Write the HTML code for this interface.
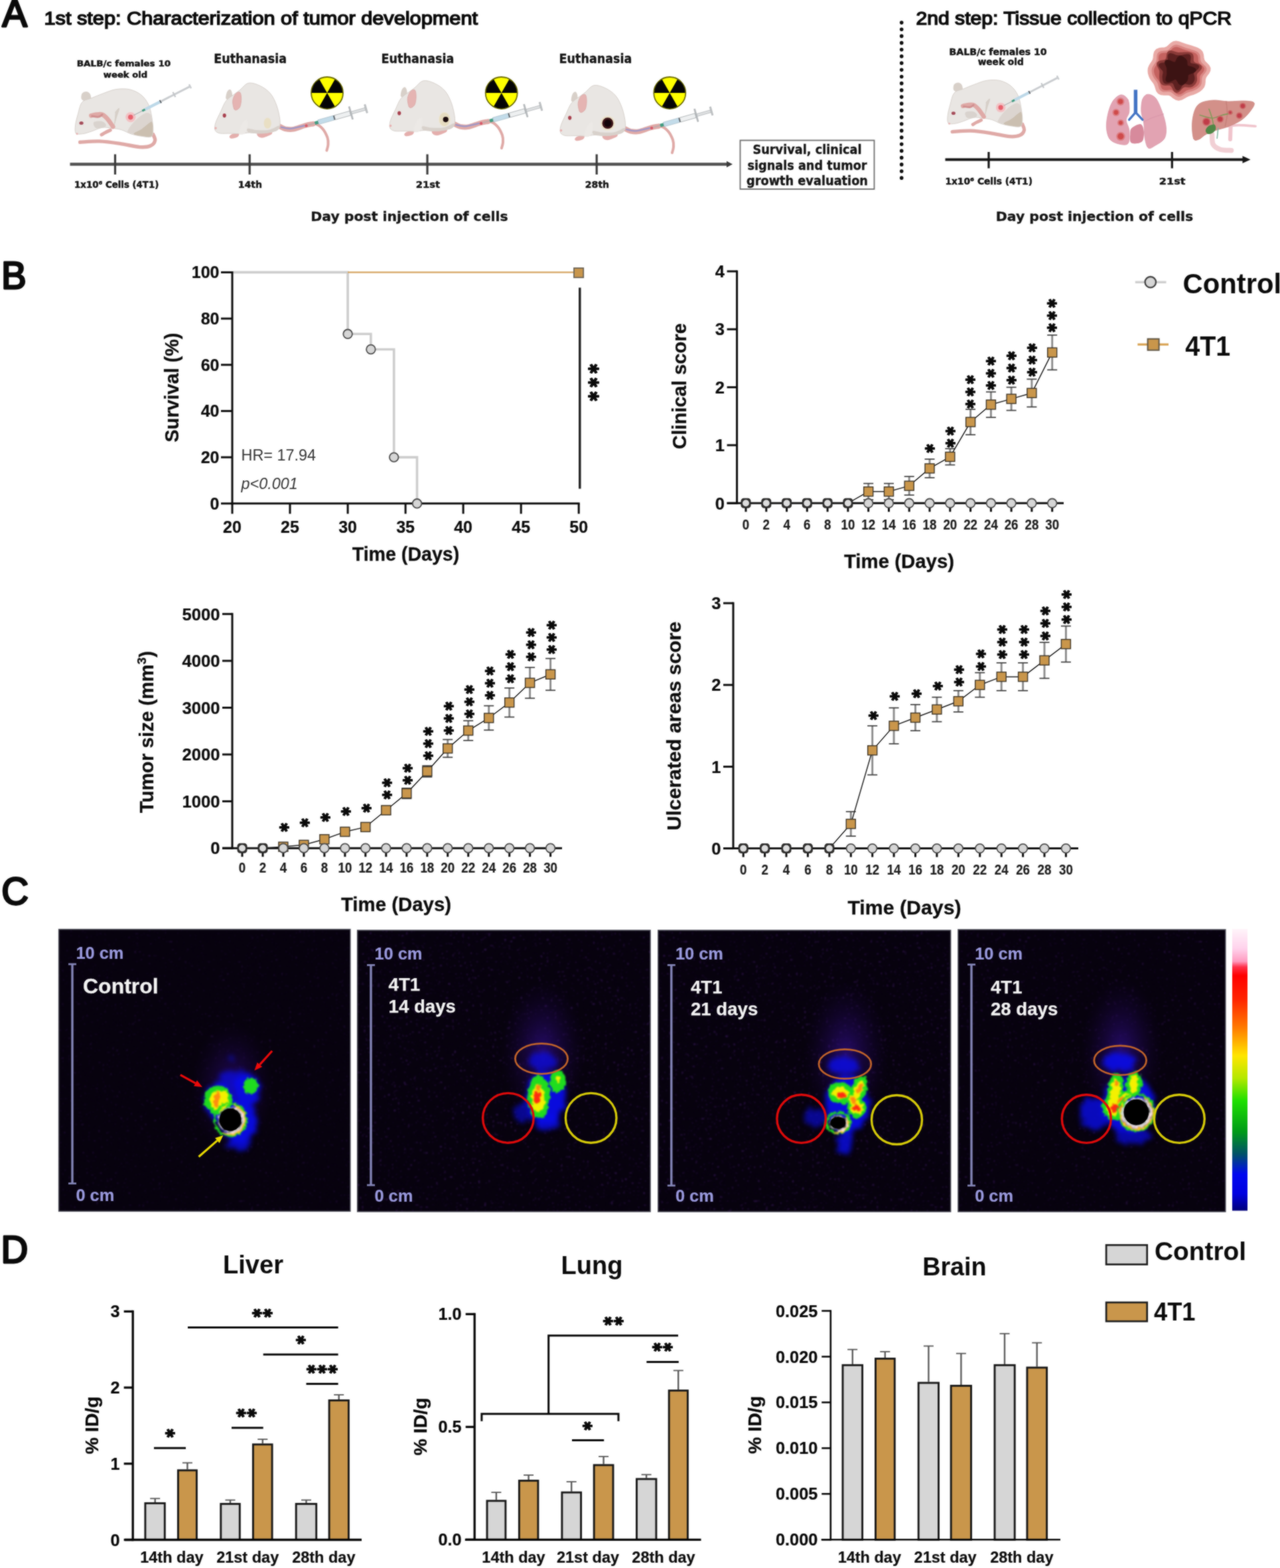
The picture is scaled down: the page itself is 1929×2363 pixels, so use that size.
<!DOCTYPE html>
<html lang="en">
<head>
<meta charset="utf-8">
<title>4T1 tumor model figure</title>
<style>
html,body{margin:0;padding:0;background:#fff;}
body{width:1929px;height:2363px;overflow:hidden;}
svg{display:block;font-family:"Liberation Sans", Arial, Helvetica, sans-serif;}
</style>
</head>
<body>
<svg width="1929" height="2363" viewBox="0 0 1929 2363">
<filter id="soft" x="0" y="0" width="1929" height="2363" filterUnits="userSpaceOnUse" color-interpolation-filters="sRGB">
<feGaussianBlur stdDeviation="1" result="b"/>
<feComposite in="SourceGraphic" in2="b" operator="arithmetic" k1="0" k2="0.42" k3="0.58" k4="0"/>
</filter>
<g filter="url(#soft)">
<rect width="1929" height="2363" fill="#fff"/>
<g id="panel_a">
<text x="3.2" y="40.2" font-size="56.5" font-weight="normal" text-anchor="start" fill="#0a0a0a" stroke="#0a0a0a" stroke-width="2.9" stroke-linejoin="round">A</text>
<text x="66.5" y="37.2" font-size="28.2" font-weight="normal" text-anchor="start" fill="#0a0a0a" textLength="653.5" lengthAdjust="spacingAndGlyphs" stroke="#0a0a0a" stroke-width="1.5">1st step: Characterization of tumor development</text>
<text x="1380.5" y="37.0" font-size="28.2" font-weight="normal" text-anchor="start" fill="#0a0a0a" textLength="475.5" lengthAdjust="spacingAndGlyphs" stroke="#0a0a0a" stroke-width="1.5">2nd step: Tissue collection to qPCR</text>
<line x1="105.5" y1="247.5" x2="1097.0" y2="247.5" stroke="#4f4f4f" stroke-width="4.6" />
<polygon points="1095,242.8 1104,247.5 1095,252.2" fill="#3a3a3a"/>
<line x1="173.5" y1="232.5" x2="173.5" y2="263.0" stroke="#3a3a3a" stroke-width="3.2" />
<line x1="376.2" y1="232.5" x2="376.2" y2="263.0" stroke="#3a3a3a" stroke-width="3.2" />
<line x1="644.0" y1="232.5" x2="644.0" y2="263.0" stroke="#3a3a3a" stroke-width="3.2" />
<line x1="899.2" y1="232.5" x2="899.2" y2="263.0" stroke="#3a3a3a" stroke-width="3.2" />
<text x="175.7" y="283.3" font-size="13.4" font-weight="bold" text-anchor="middle" fill="#141414" font-family='"DejaVu Sans", "Liberation Sans", sans-serif' textLength="127.3" lengthAdjust="spacingAndGlyphs" stroke="#141414" stroke-width="0.5">1x10⁶ Cells (4T1)</text>
<text x="376.8" y="283.3" font-size="14.2" font-weight="bold" text-anchor="middle" fill="#141414" font-family='"DejaVu Sans", "Liberation Sans", sans-serif' textLength="36.3" lengthAdjust="spacingAndGlyphs" stroke="#141414" stroke-width="0.5">14th</text>
<text x="645.0" y="283.3" font-size="14.2" font-weight="bold" text-anchor="middle" fill="#141414" font-family='"DejaVu Sans", "Liberation Sans", sans-serif' textLength="36.3" lengthAdjust="spacingAndGlyphs" stroke="#141414" stroke-width="0.5">21st</text>
<text x="900.0" y="283.3" font-size="14.2" font-weight="bold" text-anchor="middle" fill="#141414" font-family='"DejaVu Sans", "Liberation Sans", sans-serif' textLength="36.3" lengthAdjust="spacingAndGlyphs" stroke="#141414" stroke-width="0.5">28th</text>
<text x="617.0" y="332.5" font-size="20" font-weight="bold" text-anchor="middle" fill="#141414" font-family='"DejaVu Sans", "Liberation Sans", sans-serif' textLength="297.5" lengthAdjust="spacingAndGlyphs" stroke="#141414" stroke-width="0.35">Day post injection of cells</text>
<text x="186.5" y="100.0" font-size="13" font-weight="bold" text-anchor="middle" fill="#141414" font-family='"DejaVu Sans", "Liberation Sans", sans-serif' textLength="141.6" lengthAdjust="spacingAndGlyphs" stroke="#141414" stroke-width="0.5">BALB/c females 10</text>
<text x="189.0" y="117.2" font-size="13" font-weight="bold" text-anchor="middle" fill="#141414" font-family='"DejaVu Sans", "Liberation Sans", sans-serif' textLength="66.5" lengthAdjust="spacingAndGlyphs" stroke="#141414" stroke-width="0.5">week old</text>
<text x="377.1" y="95.1" font-size="19.5" font-weight="bold" text-anchor="middle" fill="#141414" font-family='"DejaVu Sans", "Liberation Sans", sans-serif' textLength="109.8" lengthAdjust="spacingAndGlyphs" stroke="#141414" stroke-width="0.35">Euthanasia</text>
<text x="629.5" y="94.6" font-size="19.5" font-weight="bold" text-anchor="middle" fill="#141414" font-family='"DejaVu Sans", "Liberation Sans", sans-serif' textLength="109.8" lengthAdjust="spacingAndGlyphs" stroke="#141414" stroke-width="0.35">Euthanasia</text>
<text x="897.5" y="94.6" font-size="19.5" font-weight="bold" text-anchor="middle" fill="#141414" font-family='"DejaVu Sans", "Liberation Sans", sans-serif' textLength="109.8" lengthAdjust="spacingAndGlyphs" stroke="#141414" stroke-width="0.35">Euthanasia</text>
<rect x="1115.5" y="211.5" width="202.0" height="73.5" fill="#fff" stroke="#6a6a6a" stroke-width="1.8" />
<text x="1216.5" y="232.3" font-size="18.6" font-weight="bold" text-anchor="middle" fill="#141414" font-family='"DejaVu Sans", "Liberation Sans", sans-serif' textLength="164.0" lengthAdjust="spacingAndGlyphs" stroke="#141414" stroke-width="0.35">Survival, clinical</text>
<text x="1216.5" y="255.6" font-size="18.6" font-weight="bold" text-anchor="middle" fill="#141414" font-family='"DejaVu Sans", "Liberation Sans", sans-serif' textLength="180.0" lengthAdjust="spacingAndGlyphs" stroke="#141414" stroke-width="0.35">signals and tumor</text>
<text x="1216.5" y="279.2" font-size="18.6" font-weight="bold" text-anchor="middle" fill="#141414" font-family='"DejaVu Sans", "Liberation Sans", sans-serif' textLength="183.0" lengthAdjust="spacingAndGlyphs" stroke="#141414" stroke-width="0.35">growth evaluation</text>
<path d="M230.8 202.6 C231.2 204.1 234.3 208.9 233.6 211.8 C233.0 214.7 230.6 218.2 226.7 219.8 C222.9 221.5 218.3 222.1 210.6 221.6 C202.9 221.0 190.8 217.8 180.6 216.4 C170.5 214.9 159.5 213.3 149.5 212.9 C139.6 212.6 125.5 214.1 120.7 214.3" fill="none" stroke="#dfa9a6" stroke-width="5.4" stroke-linecap="round" stroke-linejoin="round" />
<path d="M123.0 149.6 C121.8 147.5 122.5 142.8 123.6 140.9 C124.8 139.0 127.9 137.9 130.0 138.0 C132.0 138.1 134.6 139.6 135.7 141.5 C136.9 143.4 137.6 147.6 136.9 149.6 C136.1 151.5 133.4 153.0 131.1 153.0 C128.8 153.0 124.3 151.6 123.0 149.6Z" fill="#d8d0c9" />
<path d="M114.4 200.8 C112.5 198.7 113.1 193.4 113.6 188.7 C114.1 184.0 115.6 178.4 117.3 172.6 C119.0 166.8 120.2 158.3 123.6 154.2 C127.1 150.0 132.7 150.0 138.0 147.8 C143.3 145.6 149.2 143.1 155.3 140.9 C161.4 138.7 168.2 135.6 174.9 134.6 C181.6 133.6 189.3 133.4 195.6 134.8 C202.0 136.3 208.2 139.4 212.9 143.2 C217.6 147.0 221.3 152.3 223.8 157.6 C226.4 162.9 227.3 168.6 228.5 174.9 C229.6 181.2 230.9 190.5 230.8 195.6 C230.7 200.8 230.7 204.4 227.9 206.0 C225.1 207.6 219.0 206.1 214.1 205.4 C209.1 204.8 203.1 203.6 197.9 202.0 C192.7 200.3 187.7 197.1 182.9 195.6 C178.1 194.2 173.9 193.9 169.1 193.3 C164.3 192.8 159.3 191.4 154.1 192.2 C149.0 193.0 142.9 196.4 138.0 197.9 C133.1 199.5 128.7 201.2 124.8 201.6 C120.8 202.1 116.3 203.0 114.4 200.8Z" fill="#e9e6e3" stroke="#d3ccc6" stroke-width="0.9" stroke-linecap="round" stroke-linejoin="round" />
<path d="M203.7 181.8 C208.3 177.2 215.7 171.5 219.8 170.3 C223.9 169.1 226.4 170.7 228.1 174.9 C229.8 179.1 230.0 190.5 230.0 195.6 C229.9 200.8 230.3 204.0 227.6 205.6 C225.0 207.1 218.8 205.7 214.1 205.1 C209.3 204.4 202.7 202.8 199.1 201.6 C195.4 200.4 191.4 201.3 192.2 197.9 C192.9 194.6 199.1 186.4 203.7 181.8Z" fill="#dcd5d0" />
<path d="M213.5 194.5 C217.4 191.8 222.4 187.0 225.0 185.3 C227.6 183.5 228.4 182.3 229.3 184.1 C230.2 185.9 230.7 192.6 230.4 196.2 C230.1 199.8 230.4 204.1 227.6 205.6 C224.9 207.0 218.4 205.7 214.1 205.1 C209.7 204.4 201.5 203.4 201.4 201.6 C201.3 199.9 209.5 197.2 213.5 194.5Z" fill="#cbbfb0" />
<path d="M141.5 184.1 C143.2 182.5 151.1 182.2 154.1 183.0 C157.2 183.7 159.9 187.1 159.9 188.7 C159.9 190.4 156.8 192.2 154.1 192.8 C151.5 193.4 145.9 193.9 143.8 192.4 C141.7 191.0 139.7 185.7 141.5 184.1Z" fill="#d9d3ce" />
<path d="M173.7 169.1 C174.7 168.2 179.1 162.4 179.5 163.4 C179.9 164.3 177.3 170.7 176.0 174.9 C174.8 179.1 172.7 186.4 172.0 188.7" fill="#d6cfc8" stroke="#d6cfc8" stroke-width="1.2" stroke-linecap="round" stroke-linejoin="round" />
<path d="M137.4 174.3 C138.7 174.0 142.1 172.9 144.9 172.6 C147.7 172.3 151.3 171.5 154.1 172.6 C157.0 173.8 159.5 176.4 162.2 179.5 C164.9 182.6 168.9 189.1 170.3 191.0" fill="none" stroke="#dfa9a6" stroke-width="6.6" stroke-linecap="round" stroke-linejoin="round" />
<path d="M138.6 174.9 C140.2 175.1 145.8 176.4 148.4 176.1 C151.0 175.7 153.2 173.2 154.1 172.6" fill="none" stroke="#d08f8f" stroke-width="3.0" stroke-linecap="round" stroke-linejoin="round" />
<path d="M166.2 196.2 C165.0 196.8 161.0 198.5 158.8 199.7 C156.5 200.8 154.0 202.6 153.0 203.1" fill="none" stroke="#dfa9a6" stroke-width="5.0" stroke-linecap="round" stroke-linejoin="round" />
<ellipse cx="122.6" cy="185.5" rx="3.1" ry="2.5" fill="#a44a58"/>
<circle cx="116.1" cy="201.6" r="1.6" fill="#e8b6b6" />
<circle cx="196.8" cy="176.6" r="7.6" fill="#f2c2c4" />
<circle cx="196.8" cy="176.6" r="3.8" fill="#e8606c" />
<g transform="translate(201.4 173.8) rotate(-27.15)"><line x1="0.0" y1="0.0" x2="15.4" y2="0.0" stroke="#a9aeb0" stroke-width="1.0" /><rect x="14.5" y="-1.6" width="5.0" height="3.2" fill="#3f9c80" /><rect x="19.5" y="-2.2" width="25.1" height="4.4" fill="#bcd8e8" /><rect x="44.5" y="-2.4" width="2.0" height="4.8" fill="#50565c" /><rect x="46.5" y="-1.5" width="49.9" height="3.0" fill="#c9cccf" /><rect x="67.5" y="-4.2" width="2.2" height="8.4" fill="#c2c5c8" /><rect x="94.5" y="-3.4" width="2.4" height="6.8" fill="#c9cccf" /></g>
<path d="M420.8 189.4 C422.3 190.1 426.3 193.0 429.8 193.9 C433.3 194.7 436.8 195.4 441.8 194.6 C446.8 193.8 454.3 190.4 459.8 189.1 C465.3 187.8 470.4 185.9 474.7 186.7 C479.1 187.5 482.9 190.4 486.0 193.9 C489.1 197.3 492.0 203.4 493.5 207.3 C494.9 211.3 494.7 214.6 494.5 217.8 C494.3 221.1 492.8 225.3 492.4 226.8" fill="none" stroke="#dfa9a6" stroke-width="4.0" stroke-linecap="round" stroke-linejoin="round" />
<path d="M420.8 190.1 C422.3 190.8 426.3 193.4 429.8 194.2 C433.3 194.9 436.8 195.6 441.8 194.8 C446.8 193.9 454.8 190.4 459.8 189.1 C464.8 187.7 469.8 187.1 471.7 186.7" fill="none" stroke="#dfa9a6" stroke-width="7.6" stroke-linecap="round" stroke-linejoin="round" />
<path d="M423.8 191.6 C426.1 192.0 431.6 194.2 437.3 193.9 C443.0 193.5 454.8 190.1 458.3 189.4" fill="none" stroke="#9c96c8" stroke-width="2.4" stroke-linecap="round" stroke-linejoin="round" />
<circle cx="461.6" cy="189.4" r="2.2" fill="#d85868" />
<path d="M340.7 148.9 C339.5 147.1 341.2 140.8 342.2 138.5 C343.2 136.1 345.4 134.5 346.7 134.7 C347.9 135.0 349.3 137.5 349.7 140.0 C350.1 142.4 350.7 147.7 349.2 149.2 C347.7 150.7 341.9 150.7 340.7 148.9Z" fill="#d8d0c9" />
<path d="M347.4 203.6 C348.9 202.5 352.8 200.9 354.9 200.6 C357.1 200.4 359.7 201.1 360.2 202.1 C360.7 203.1 359.7 205.5 357.9 206.6 C356.2 207.7 351.7 208.8 349.7 208.8 C347.7 208.9 346.3 207.9 345.9 207.0 C345.6 206.2 345.9 204.7 347.4 203.6Z" fill="#e4aeac" />
<path d="M387.9 199.9 C389.5 198.6 394.9 198.1 398.4 197.6 C401.9 197.1 407.0 196.1 408.8 196.9 C410.7 197.6 410.8 200.6 409.6 202.1 C408.3 203.6 404.0 204.9 401.4 205.9 C398.7 206.8 396.0 207.8 393.9 207.6 C391.7 207.5 389.6 206.4 388.6 205.1 C387.6 203.8 386.3 201.1 387.9 199.9Z" fill="#e4aeac" />
<path d="M323.8 193.9 C323.7 191.6 323.5 189.1 325.0 184.9 C326.4 180.6 329.8 173.9 332.5 168.4 C335.1 162.9 337.3 156.3 340.7 151.9 C344.1 147.6 349.2 144.9 352.7 142.2 C356.2 139.5 358.1 138.3 361.7 135.5 C365.3 132.6 369.4 126.3 374.4 125.3 C379.4 124.2 386.1 126.6 391.6 129.2 C397.1 131.7 403.1 135.7 407.3 140.7 C411.6 145.7 414.6 152.6 417.1 159.4 C419.5 166.3 421.5 176.1 422.0 181.9 C422.5 187.6 421.8 191.1 420.1 193.9 C418.4 196.6 416.2 197.2 411.8 198.4 C407.5 199.6 399.9 200.8 393.9 201.1 C387.9 201.3 381.1 199.8 375.9 199.9 C370.7 200.0 367.2 201.5 362.4 201.7 C357.7 201.9 352.4 201.2 347.4 201.1 C342.4 201.0 336.1 201.5 332.5 201.1 C328.8 200.6 327.2 199.6 325.7 198.4 C324.3 197.2 323.9 196.1 323.8 193.9Z" fill="#e9e6e3" stroke="#d3ccc6" stroke-width="0.9" stroke-linecap="round" stroke-linejoin="round" />
<path d="M372.9 193.9 C374.9 193.2 382.4 195.9 387.9 196.1 C393.4 196.4 400.5 196.5 405.9 195.4 C411.2 194.2 417.7 189.6 420.1 189.4 C422.5 189.1 421.5 192.4 420.1 193.9 C418.7 195.4 416.2 197.2 411.8 198.4 C407.5 199.6 399.9 200.8 393.9 201.1 C387.9 201.3 379.4 201.1 375.9 199.9 C372.4 198.7 370.9 194.5 372.9 193.9Z" fill="#d8d1cb" />
<path d="M360.2 201.4 C359.4 199.1 362.0 191.4 363.9 187.9 C365.8 184.4 369.9 179.9 371.4 180.4 C372.9 180.9 373.4 187.4 372.9 190.9 C372.4 194.4 370.5 199.6 368.4 201.4 C366.3 203.1 360.9 203.6 360.2 201.4Z" fill="#ece9e6" />
<path d="M352.7 163.9 C351.7 161.6 350.4 155.7 350.7 151.9 C351.1 148.2 353.1 143.6 354.9 141.5 C356.8 139.3 360.2 138.0 361.7 139.2 C363.1 140.5 363.6 145.3 363.6 148.9 C363.6 152.6 362.9 158.1 361.7 160.9 C360.5 163.7 357.9 165.2 356.4 165.7 C354.9 166.2 353.6 166.2 352.7 163.9Z" fill="#e5b4b2" stroke="#d9a6a4" stroke-width="0.8" stroke-linecap="round" stroke-linejoin="round" />
<ellipse cx="338.2" cy="174.1" rx="2.6" ry="3.1" fill="#a8404e"/>
<circle cx="325.0" cy="193.1" r="1.8" fill="#e8b0b0" />
<ellipse cx="403.2" cy="185.6" rx="5.6" ry="8.2" fill="#e9dfc4"/>
<g transform="translate(475.5 185.3) rotate(-15.72)"><line x1="-12.0" y1="0.0" x2="0.0" y2="0.0" stroke="#a9aeb0" stroke-width="1.1" /><rect x="-1.0" y="-2.4" width="5.5" height="4.9" fill="#3f9c80" /><rect x="4.5" y="-3.4" width="24.0" height="6.8" fill="#c3dcea" stroke="#9fb4bf" stroke-width="0.6" /><rect x="28.5" y="-3.4" width="1.8" height="6.8" fill="#4a4f55" /><rect x="30.3" y="-3.4" width="24.0" height="6.8" fill="#eef0f1" stroke="#a6abae" stroke-width="0.8" /><rect x="54.4" y="-9.9" width="2.0" height="19.7" fill="#b9bdc0" stroke="#9a9ea1" stroke-width="0.5" /><rect x="56.4" y="-1.9" width="22.8" height="3.8" fill="#dfe1e2" stroke="#a9adb0" stroke-width="0.7" /><rect x="77.9" y="-6.5" width="2.2" height="12.9" fill="#c4c7c9" stroke="#9a9ea1" stroke-width="0.5" /></g>
<circle cx="493.0" cy="140.0" r="24.0" fill="#ffff00" stroke="#6b6b00" stroke-width="1.8" /><path d="M493.0 140.0 L504.6 119.8 A23.3 23.3 0 0 1 516.3 140.0Z" fill="#050505"/><path d="M493.0 140.0 L504.6 160.2 A23.3 23.3 0 0 1 481.4 160.2Z" fill="#050505"/><path d="M493.0 140.0 L469.7 140.0 A23.3 23.3 0 0 1 481.4 119.8Z" fill="#050505"/>
<g transform="translate(263.5 -3.5)"><path d="M420.8 189.4 C422.3 190.1 426.3 193.0 429.8 193.9 C433.3 194.7 436.8 195.4 441.8 194.6 C446.8 193.8 454.3 190.4 459.8 189.1 C465.3 187.8 470.4 185.9 474.7 186.7 C479.1 187.5 482.9 190.4 486.0 193.9 C489.1 197.3 492.0 203.4 493.5 207.3 C494.9 211.3 494.7 214.6 494.5 217.8 C494.3 221.1 492.8 225.3 492.4 226.8" fill="none" stroke="#dfa9a6" stroke-width="4.0" stroke-linecap="round" stroke-linejoin="round" />
<path d="M420.8 190.1 C422.3 190.8 426.3 193.4 429.8 194.2 C433.3 194.9 436.8 195.6 441.8 194.8 C446.8 193.9 454.8 190.4 459.8 189.1 C464.8 187.7 469.8 187.1 471.7 186.7" fill="none" stroke="#dfa9a6" stroke-width="7.6" stroke-linecap="round" stroke-linejoin="round" />
<path d="M423.8 191.6 C426.1 192.0 431.6 194.2 437.3 193.9 C443.0 193.5 454.8 190.1 458.3 189.4" fill="none" stroke="#9c96c8" stroke-width="2.4" stroke-linecap="round" stroke-linejoin="round" />
<circle cx="461.6" cy="189.4" r="2.2" fill="#d85868" />
<path d="M340.7 148.9 C339.5 147.1 341.2 140.8 342.2 138.5 C343.2 136.1 345.4 134.5 346.7 134.7 C347.9 135.0 349.3 137.5 349.7 140.0 C350.1 142.4 350.7 147.7 349.2 149.2 C347.7 150.7 341.9 150.7 340.7 148.9Z" fill="#d8d0c9" />
<path d="M347.4 203.6 C348.9 202.5 352.8 200.9 354.9 200.6 C357.1 200.4 359.7 201.1 360.2 202.1 C360.7 203.1 359.7 205.5 357.9 206.6 C356.2 207.7 351.7 208.8 349.7 208.8 C347.7 208.9 346.3 207.9 345.9 207.0 C345.6 206.2 345.9 204.7 347.4 203.6Z" fill="#e4aeac" />
<path d="M387.9 199.9 C389.5 198.6 394.9 198.1 398.4 197.6 C401.9 197.1 407.0 196.1 408.8 196.9 C410.7 197.6 410.8 200.6 409.6 202.1 C408.3 203.6 404.0 204.9 401.4 205.9 C398.7 206.8 396.0 207.8 393.9 207.6 C391.7 207.5 389.6 206.4 388.6 205.1 C387.6 203.8 386.3 201.1 387.9 199.9Z" fill="#e4aeac" />
<path d="M323.8 193.9 C323.7 191.6 323.5 189.1 325.0 184.9 C326.4 180.6 329.8 173.9 332.5 168.4 C335.1 162.9 337.3 156.3 340.7 151.9 C344.1 147.6 349.2 144.9 352.7 142.2 C356.2 139.5 358.1 138.3 361.7 135.5 C365.3 132.6 369.4 126.3 374.4 125.3 C379.4 124.2 386.1 126.6 391.6 129.2 C397.1 131.7 403.1 135.7 407.3 140.7 C411.6 145.7 414.6 152.6 417.1 159.4 C419.5 166.3 421.5 176.1 422.0 181.9 C422.5 187.6 421.8 191.1 420.1 193.9 C418.4 196.6 416.2 197.2 411.8 198.4 C407.5 199.6 399.9 200.8 393.9 201.1 C387.9 201.3 381.1 199.8 375.9 199.9 C370.7 200.0 367.2 201.5 362.4 201.7 C357.7 201.9 352.4 201.2 347.4 201.1 C342.4 201.0 336.1 201.5 332.5 201.1 C328.8 200.6 327.2 199.6 325.7 198.4 C324.3 197.2 323.9 196.1 323.8 193.9Z" fill="#e9e6e3" stroke="#d3ccc6" stroke-width="0.9" stroke-linecap="round" stroke-linejoin="round" />
<path d="M372.9 193.9 C374.9 193.2 382.4 195.9 387.9 196.1 C393.4 196.4 400.5 196.5 405.9 195.4 C411.2 194.2 417.7 189.6 420.1 189.4 C422.5 189.1 421.5 192.4 420.1 193.9 C418.7 195.4 416.2 197.2 411.8 198.4 C407.5 199.6 399.9 200.8 393.9 201.1 C387.9 201.3 379.4 201.1 375.9 199.9 C372.4 198.7 370.9 194.5 372.9 193.9Z" fill="#d8d1cb" />
<path d="M360.2 201.4 C359.4 199.1 362.0 191.4 363.9 187.9 C365.8 184.4 369.9 179.9 371.4 180.4 C372.9 180.9 373.4 187.4 372.9 190.9 C372.4 194.4 370.5 199.6 368.4 201.4 C366.3 203.1 360.9 203.6 360.2 201.4Z" fill="#ece9e6" />
<path d="M352.7 163.9 C351.7 161.6 350.4 155.7 350.7 151.9 C351.1 148.2 353.1 143.6 354.9 141.5 C356.8 139.3 360.2 138.0 361.7 139.2 C363.1 140.5 363.6 145.3 363.6 148.9 C363.6 152.6 362.9 158.1 361.7 160.9 C360.5 163.7 357.9 165.2 356.4 165.7 C354.9 166.2 353.6 166.2 352.7 163.9Z" fill="#e5b4b2" stroke="#d9a6a4" stroke-width="0.8" stroke-linecap="round" stroke-linejoin="round" />
<ellipse cx="338.2" cy="174.1" rx="2.6" ry="3.1" fill="#a8404e"/>
<circle cx="325.0" cy="193.1" r="1.8" fill="#e8b0b0" />
<ellipse cx="406.4" cy="183.4" rx="8.6" ry="10.6" fill="#e6dcc0" stroke="#efe9d8" stroke-width="1"/>
<circle cx="408.2" cy="183.6" r="4.1" fill="#1a0a0c" />
<g transform="translate(475.5 185.3) rotate(-15.72)"><line x1="-12.0" y1="0.0" x2="0.0" y2="0.0" stroke="#a9aeb0" stroke-width="1.1" /><rect x="-1.0" y="-2.4" width="5.5" height="4.9" fill="#3f9c80" /><rect x="4.5" y="-3.4" width="24.0" height="6.8" fill="#c3dcea" stroke="#9fb4bf" stroke-width="0.6" /><rect x="28.5" y="-3.4" width="1.8" height="6.8" fill="#4a4f55" /><rect x="30.3" y="-3.4" width="24.0" height="6.8" fill="#eef0f1" stroke="#a6abae" stroke-width="0.8" /><rect x="54.4" y="-9.9" width="2.0" height="19.7" fill="#b9bdc0" stroke="#9a9ea1" stroke-width="0.5" /><rect x="56.4" y="-1.9" width="22.8" height="3.8" fill="#dfe1e2" stroke="#a9adb0" stroke-width="0.7" /><rect x="77.9" y="-6.5" width="2.2" height="12.9" fill="#c4c7c9" stroke="#9a9ea1" stroke-width="0.5" /></g></g>
<circle cx="755.7" cy="140.0" r="24.0" fill="#ffff00" stroke="#6b6b00" stroke-width="1.8" /><path d="M755.7 140.0 L767.3 119.8 A23.3 23.3 0 0 1 779.0 140.0Z" fill="#050505"/><path d="M755.7 140.0 L767.3 160.2 A23.3 23.3 0 0 1 744.1 160.2Z" fill="#050505"/><path d="M755.7 140.0 L732.4 140.0 A23.3 23.3 0 0 1 744.1 119.8Z" fill="#050505"/>
<g transform="translate(520.5 3.5)"><path d="M420.8 189.4 C422.3 190.1 426.3 193.0 429.8 193.9 C433.3 194.7 436.8 195.4 441.8 194.6 C446.8 193.8 454.3 190.4 459.8 189.1 C465.3 187.8 470.4 185.9 474.7 186.7 C479.1 187.5 482.9 190.4 486.0 193.9 C489.1 197.3 492.0 203.4 493.5 207.3 C494.9 211.3 494.7 214.6 494.5 217.8 C494.3 221.1 492.8 225.3 492.4 226.8" fill="none" stroke="#dfa9a6" stroke-width="4.0" stroke-linecap="round" stroke-linejoin="round" />
<path d="M420.8 190.1 C422.3 190.8 426.3 193.4 429.8 194.2 C433.3 194.9 436.8 195.6 441.8 194.8 C446.8 193.9 454.8 190.4 459.8 189.1 C464.8 187.7 469.8 187.1 471.7 186.7" fill="none" stroke="#dfa9a6" stroke-width="7.6" stroke-linecap="round" stroke-linejoin="round" />
<path d="M423.8 191.6 C426.1 192.0 431.6 194.2 437.3 193.9 C443.0 193.5 454.8 190.1 458.3 189.4" fill="none" stroke="#9c96c8" stroke-width="2.4" stroke-linecap="round" stroke-linejoin="round" />
<circle cx="461.6" cy="189.4" r="2.2" fill="#d85868" />
<path d="M340.7 148.9 C339.5 147.1 341.2 140.8 342.2 138.5 C343.2 136.1 345.4 134.5 346.7 134.7 C347.9 135.0 349.3 137.5 349.7 140.0 C350.1 142.4 350.7 147.7 349.2 149.2 C347.7 150.7 341.9 150.7 340.7 148.9Z" fill="#d8d0c9" />
<path d="M347.4 203.6 C348.9 202.5 352.8 200.9 354.9 200.6 C357.1 200.4 359.7 201.1 360.2 202.1 C360.7 203.1 359.7 205.5 357.9 206.6 C356.2 207.7 351.7 208.8 349.7 208.8 C347.7 208.9 346.3 207.9 345.9 207.0 C345.6 206.2 345.9 204.7 347.4 203.6Z" fill="#e4aeac" />
<path d="M387.9 199.9 C389.5 198.6 394.9 198.1 398.4 197.6 C401.9 197.1 407.0 196.1 408.8 196.9 C410.7 197.6 410.8 200.6 409.6 202.1 C408.3 203.6 404.0 204.9 401.4 205.9 C398.7 206.8 396.0 207.8 393.9 207.6 C391.7 207.5 389.6 206.4 388.6 205.1 C387.6 203.8 386.3 201.1 387.9 199.9Z" fill="#e4aeac" />
<path d="M323.8 193.9 C323.7 191.6 323.5 189.1 325.0 184.9 C326.4 180.6 329.8 173.9 332.5 168.4 C335.1 162.9 337.3 156.3 340.7 151.9 C344.1 147.6 349.2 144.9 352.7 142.2 C356.2 139.5 358.1 138.3 361.7 135.5 C365.3 132.6 369.4 126.3 374.4 125.3 C379.4 124.2 386.1 126.6 391.6 129.2 C397.1 131.7 403.1 135.7 407.3 140.7 C411.6 145.7 414.6 152.6 417.1 159.4 C419.5 166.3 421.5 176.1 422.0 181.9 C422.5 187.6 421.8 191.1 420.1 193.9 C418.4 196.6 416.2 197.2 411.8 198.4 C407.5 199.6 399.9 200.8 393.9 201.1 C387.9 201.3 381.1 199.8 375.9 199.9 C370.7 200.0 367.2 201.5 362.4 201.7 C357.7 201.9 352.4 201.2 347.4 201.1 C342.4 201.0 336.1 201.5 332.5 201.1 C328.8 200.6 327.2 199.6 325.7 198.4 C324.3 197.2 323.9 196.1 323.8 193.9Z" fill="#e9e6e3" stroke="#d3ccc6" stroke-width="0.9" stroke-linecap="round" stroke-linejoin="round" />
<path d="M372.9 193.9 C374.9 193.2 382.4 195.9 387.9 196.1 C393.4 196.4 400.5 196.5 405.9 195.4 C411.2 194.2 417.7 189.6 420.1 189.4 C422.5 189.1 421.5 192.4 420.1 193.9 C418.7 195.4 416.2 197.2 411.8 198.4 C407.5 199.6 399.9 200.8 393.9 201.1 C387.9 201.3 379.4 201.1 375.9 199.9 C372.4 198.7 370.9 194.5 372.9 193.9Z" fill="#d8d1cb" />
<path d="M360.2 201.4 C359.4 199.1 362.0 191.4 363.9 187.9 C365.8 184.4 369.9 179.9 371.4 180.4 C372.9 180.9 373.4 187.4 372.9 190.9 C372.4 194.4 370.5 199.6 368.4 201.4 C366.3 203.1 360.9 203.6 360.2 201.4Z" fill="#ece9e6" />
<path d="M352.7 163.9 C351.7 161.6 350.4 155.7 350.7 151.9 C351.1 148.2 353.1 143.6 354.9 141.5 C356.8 139.3 360.2 138.0 361.7 139.2 C363.1 140.5 363.6 145.3 363.6 148.9 C363.6 152.6 362.9 158.1 361.7 160.9 C360.5 163.7 357.9 165.2 356.4 165.7 C354.9 166.2 353.6 166.2 352.7 163.9Z" fill="#e5b4b2" stroke="#d9a6a4" stroke-width="0.8" stroke-linecap="round" stroke-linejoin="round" />
<ellipse cx="338.2" cy="174.1" rx="2.6" ry="3.1" fill="#a8404e"/>
<circle cx="325.0" cy="193.1" r="1.8" fill="#e8b0b0" />
<circle cx="395.4" cy="182.2" r="11.0" fill="#e9dfc6" stroke="#f2ecde" stroke-width="1" />
<circle cx="395.4" cy="182.2" r="8.4" fill="#3a1216" />
<circle cx="395.4" cy="182.2" r="5.4" fill="#14060a" />
<g transform="translate(475.5 185.3) rotate(-15.72)"><line x1="-12.0" y1="0.0" x2="0.0" y2="0.0" stroke="#a9aeb0" stroke-width="1.1" /><rect x="-1.0" y="-2.4" width="5.5" height="4.9" fill="#3f9c80" /><rect x="4.5" y="-3.4" width="24.0" height="6.8" fill="#c3dcea" stroke="#9fb4bf" stroke-width="0.6" /><rect x="28.5" y="-3.4" width="1.8" height="6.8" fill="#4a4f55" /><rect x="30.3" y="-3.4" width="24.0" height="6.8" fill="#eef0f1" stroke="#a6abae" stroke-width="0.8" /><rect x="54.4" y="-9.9" width="2.0" height="19.7" fill="#b9bdc0" stroke="#9a9ea1" stroke-width="0.5" /><rect x="56.4" y="-1.9" width="22.8" height="3.8" fill="#dfe1e2" stroke="#a9adb0" stroke-width="0.7" /><rect x="77.9" y="-6.5" width="2.2" height="12.9" fill="#c4c7c9" stroke="#9a9ea1" stroke-width="0.5" /></g></g>
<circle cx="1009.3" cy="140.0" r="24.0" fill="#ffff00" stroke="#6b6b00" stroke-width="1.8" /><path d="M1009.3 140.0 L1020.9 119.8 A23.3 23.3 0 0 1 1032.6 140.0Z" fill="#050505"/><path d="M1009.3 140.0 L1020.9 160.2 A23.3 23.3 0 0 1 997.7 160.2Z" fill="#050505"/><path d="M1009.3 140.0 L986.0 140.0 A23.3 23.3 0 0 1 997.7 119.8Z" fill="#050505"/>
<line x1="1358.7" y1="34" x2="1358.7" y2="271" stroke="#0c0c0c" stroke-width="5.6" stroke-dasharray="0.1 10.08" stroke-linecap="round"/>
<text x="1504.1" y="82.6" font-size="13.5" font-weight="bold" text-anchor="middle" fill="#141414" font-family='"DejaVu Sans", "Liberation Sans", sans-serif' textLength="147.2" lengthAdjust="spacingAndGlyphs" stroke="#141414" stroke-width="0.5">BALB/c females 10</text>
<text x="1508.2" y="97.8" font-size="13.5" font-weight="bold" text-anchor="middle" fill="#141414" font-family='"DejaVu Sans", "Liberation Sans", sans-serif' textLength="69.0" lengthAdjust="spacingAndGlyphs" stroke="#141414" stroke-width="0.5">week old</text>
<g transform="translate(1319.2 -9.3) scale(0.96 0.97)"><path d="M230.8 202.6 C231.2 204.1 234.3 208.9 233.6 211.8 C233.0 214.7 230.6 218.2 226.7 219.8 C222.9 221.5 218.3 222.1 210.6 221.6 C202.9 221.0 190.8 217.8 180.6 216.4 C170.5 214.9 159.5 213.3 149.5 212.9 C139.6 212.6 125.5 214.1 120.7 214.3" fill="none" stroke="#dfa9a6" stroke-width="5.4" stroke-linecap="round" stroke-linejoin="round" />
<path d="M123.0 149.6 C121.8 147.5 122.5 142.8 123.6 140.9 C124.8 139.0 127.9 137.9 130.0 138.0 C132.0 138.1 134.6 139.6 135.7 141.5 C136.9 143.4 137.6 147.6 136.9 149.6 C136.1 151.5 133.4 153.0 131.1 153.0 C128.8 153.0 124.3 151.6 123.0 149.6Z" fill="#d8d0c9" />
<path d="M114.4 200.8 C112.5 198.7 113.1 193.4 113.6 188.7 C114.1 184.0 115.6 178.4 117.3 172.6 C119.0 166.8 120.2 158.3 123.6 154.2 C127.1 150.0 132.7 150.0 138.0 147.8 C143.3 145.6 149.2 143.1 155.3 140.9 C161.4 138.7 168.2 135.6 174.9 134.6 C181.6 133.6 189.3 133.4 195.6 134.8 C202.0 136.3 208.2 139.4 212.9 143.2 C217.6 147.0 221.3 152.3 223.8 157.6 C226.4 162.9 227.3 168.6 228.5 174.9 C229.6 181.2 230.9 190.5 230.8 195.6 C230.7 200.8 230.7 204.4 227.9 206.0 C225.1 207.6 219.0 206.1 214.1 205.4 C209.1 204.8 203.1 203.6 197.9 202.0 C192.7 200.3 187.7 197.1 182.9 195.6 C178.1 194.2 173.9 193.9 169.1 193.3 C164.3 192.8 159.3 191.4 154.1 192.2 C149.0 193.0 142.9 196.4 138.0 197.9 C133.1 199.5 128.7 201.2 124.8 201.6 C120.8 202.1 116.3 203.0 114.4 200.8Z" fill="#e9e6e3" stroke="#d3ccc6" stroke-width="0.9" stroke-linecap="round" stroke-linejoin="round" />
<path d="M203.7 181.8 C208.3 177.2 215.7 171.5 219.8 170.3 C223.9 169.1 226.4 170.7 228.1 174.9 C229.8 179.1 230.0 190.5 230.0 195.6 C229.9 200.8 230.3 204.0 227.6 205.6 C225.0 207.1 218.8 205.7 214.1 205.1 C209.3 204.4 202.7 202.8 199.1 201.6 C195.4 200.4 191.4 201.3 192.2 197.9 C192.9 194.6 199.1 186.4 203.7 181.8Z" fill="#dcd5d0" />
<path d="M213.5 194.5 C217.4 191.8 222.4 187.0 225.0 185.3 C227.6 183.5 228.4 182.3 229.3 184.1 C230.2 185.9 230.7 192.6 230.4 196.2 C230.1 199.8 230.4 204.1 227.6 205.6 C224.9 207.0 218.4 205.7 214.1 205.1 C209.7 204.4 201.5 203.4 201.4 201.6 C201.3 199.9 209.5 197.2 213.5 194.5Z" fill="#cbbfb0" />
<path d="M141.5 184.1 C143.2 182.5 151.1 182.2 154.1 183.0 C157.2 183.7 159.9 187.1 159.9 188.7 C159.9 190.4 156.8 192.2 154.1 192.8 C151.5 193.4 145.9 193.9 143.8 192.4 C141.7 191.0 139.7 185.7 141.5 184.1Z" fill="#d9d3ce" />
<path d="M173.7 169.1 C174.7 168.2 179.1 162.4 179.5 163.4 C179.9 164.3 177.3 170.7 176.0 174.9 C174.8 179.1 172.7 186.4 172.0 188.7" fill="#d6cfc8" stroke="#d6cfc8" stroke-width="1.2" stroke-linecap="round" stroke-linejoin="round" />
<path d="M137.4 174.3 C138.7 174.0 142.1 172.9 144.9 172.6 C147.7 172.3 151.3 171.5 154.1 172.6 C157.0 173.8 159.5 176.4 162.2 179.5 C164.9 182.6 168.9 189.1 170.3 191.0" fill="none" stroke="#dfa9a6" stroke-width="6.6" stroke-linecap="round" stroke-linejoin="round" />
<path d="M138.6 174.9 C140.2 175.1 145.8 176.4 148.4 176.1 C151.0 175.7 153.2 173.2 154.1 172.6" fill="none" stroke="#d08f8f" stroke-width="3.0" stroke-linecap="round" stroke-linejoin="round" />
<path d="M166.2 196.2 C165.0 196.8 161.0 198.5 158.8 199.7 C156.5 200.8 154.0 202.6 153.0 203.1" fill="none" stroke="#dfa9a6" stroke-width="5.0" stroke-linecap="round" stroke-linejoin="round" />
<ellipse cx="122.6" cy="185.5" rx="3.1" ry="2.5" fill="#a44a58"/>
<circle cx="116.1" cy="201.6" r="1.6" fill="#e8b6b6" />
<circle cx="196.8" cy="176.6" r="7.6" fill="#f2c2c4" />
<circle cx="196.8" cy="176.6" r="3.8" fill="#e8606c" />
<g transform="translate(201.4 173.8) rotate(-27.15)"><line x1="0.0" y1="0.0" x2="15.4" y2="0.0" stroke="#a9aeb0" stroke-width="1.0" /><rect x="14.5" y="-1.6" width="5.0" height="3.2" fill="#3f9c80" /><rect x="19.5" y="-2.2" width="25.1" height="4.4" fill="#bcd8e8" /><rect x="44.5" y="-2.4" width="2.0" height="4.8" fill="#50565c" /><rect x="46.5" y="-1.5" width="49.9" height="3.0" fill="#c9cccf" /><rect x="67.5" y="-4.2" width="2.2" height="8.4" fill="#c2c5c8" /><rect x="94.5" y="-3.4" width="2.4" height="6.8" fill="#c9cccf" /></g></g>
<path d="M1822.8 106.4 L1820.9 110.1 L1818.3 113.4 L1816.3 116.5 L1815.4 119.8 L1815.3 123.5 L1814.8 127.3 L1813.5 130.9 L1811.1 133.9 L1808.2 136.4 L1804.8 138.4 L1801.4 140.1 L1797.8 141.5 L1794.2 142.6 L1790.7 143.8 L1787.4 145.4 L1784.0 147.5 L1780.3 149.4 L1776.3 150.2 L1772.3 149.3 L1768.7 147.0 L1765.5 144.3 L1762.3 142.5 L1758.7 142.0 L1754.4 142.2 L1750.0 141.8 L1746.3 140.1 L1743.8 137.0 L1742.5 133.1 L1741.4 129.4 L1740.0 126.1 L1738.0 123.2 L1735.7 120.3 L1733.7 117.1 L1732.3 113.7 L1731.3 110.1 L1731.0 106.4 L1731.4 102.7 L1732.8 99.2 L1734.9 95.9 L1737.0 92.9 L1738.6 89.8 L1739.2 86.2 L1739.6 82.2 L1740.7 78.2 L1743.2 75.2 L1747.1 73.6 L1751.6 73.1 L1755.6 72.7 L1759.0 71.4 L1761.8 68.9 L1764.8 66.0 L1768.3 63.8 L1772.3 63.1 L1776.3 63.7 L1780.1 65.1 L1783.8 66.5 L1787.3 67.6 L1790.9 68.7 L1794.4 69.8 L1798.0 71.0 L1801.7 72.2 L1805.4 73.7 L1808.8 75.8 L1811.3 78.8 L1812.5 82.5 L1813.0 86.4 L1813.6 90.0 L1815.2 93.1 L1818.0 95.9 L1821.1 99.0 L1823.0 102.6Z" fill="#e9aaa6" stroke-linejoin="round" stroke="#e9aaa6" stroke-width="3"/><path d="M1818.3 106.4 L1816.4 109.7 L1813.9 112.6 L1812.0 115.4 L1811.3 118.4 L1811.2 121.7 L1810.9 125.2 L1809.8 128.5 L1807.7 131.2 L1805.0 133.4 L1802.0 135.2 L1798.8 136.7 L1795.6 137.8 L1792.3 138.8 L1789.2 139.8 L1786.2 141.3 L1783.2 143.3 L1779.9 145.2 L1776.3 146.0 L1772.7 145.1 L1769.5 142.8 L1766.7 140.3 L1763.9 138.6 L1760.5 138.2 L1756.6 138.5 L1752.5 138.4 L1749.2 136.8 L1747.0 134.0 L1745.9 130.4 L1745.1 127.0 L1743.8 124.1 L1742.0 121.5 L1739.9 118.9 L1738.1 116.0 L1736.7 113.0 L1735.8 109.7 L1735.5 106.4 L1735.9 103.1 L1737.2 99.9 L1739.2 97.0 L1741.2 94.4 L1742.6 91.6 L1743.1 88.4 L1743.3 84.6 L1744.1 81.0 L1746.4 78.2 L1750.0 76.9 L1754.1 76.6 L1757.9 76.3 L1760.8 75.2 L1763.3 72.8 L1766.0 70.1 L1769.1 68.0 L1772.7 67.3 L1776.3 68.0 L1779.7 69.3 L1783.0 70.6 L1786.2 71.7 L1789.3 72.7 L1792.5 73.6 L1795.8 74.7 L1799.1 75.7 L1802.5 77.0 L1805.6 78.8 L1807.8 81.5 L1808.9 84.9 L1809.1 88.5 L1809.6 91.8 L1811.0 94.5 L1813.7 97.0 L1816.7 99.7 L1818.5 102.9Z" fill="#d98683" stroke-linejoin="round" /><path d="M1814.5 106.4 L1812.5 109.4 L1810.1 112.0 L1808.5 114.5 L1808.1 117.3 L1808.2 120.4 L1808.0 123.6 L1806.9 126.5 L1804.9 129.0 L1802.4 131.0 L1799.6 132.6 L1796.7 133.9 L1793.7 134.8 L1790.8 135.6 L1788.0 136.6 L1785.4 138.2 L1782.6 140.3 L1779.6 142.0 L1776.3 142.6 L1773.0 141.5 L1770.2 139.2 L1767.6 136.8 L1765.1 135.5 L1761.9 135.4 L1758.2 135.9 L1754.5 135.7 L1751.5 134.2 L1749.7 131.4 L1748.8 128.1 L1748.1 125.0 L1746.9 122.4 L1745.1 120.1 L1743.2 117.8 L1741.5 115.2 L1740.2 112.4 L1739.3 109.4 L1739.0 106.4 L1739.5 103.4 L1740.9 100.5 L1742.8 98.0 L1744.7 95.6 L1745.8 93.0 L1746.0 89.9 L1745.9 86.4 L1746.7 83.0 L1749.0 80.7 L1752.5 79.7 L1756.4 79.6 L1759.7 79.4 L1762.3 78.1 L1764.4 75.7 L1766.8 73.1 L1769.7 71.3 L1773.0 70.8 L1776.3 71.5 L1779.4 72.8 L1782.4 74.0 L1785.3 74.9 L1788.1 75.8 L1791.0 76.7 L1794.0 77.5 L1797.1 78.4 L1800.3 79.4 L1803.1 81.2 L1805.0 83.7 L1805.7 87.0 L1805.8 90.4 L1806.2 93.3 L1807.9 95.6 L1810.6 97.7 L1813.4 100.2 L1815.0 103.2Z" fill="#c4625f" stroke-linejoin="round" /><path d="M1808.8 106.4 L1806.2 108.9 L1804.3 111.0 L1803.6 113.3 L1803.8 115.8 L1804.1 118.6 L1804.0 121.4 L1803.1 124.1 L1801.7 126.5 L1799.8 128.6 L1797.6 130.3 L1794.9 131.5 L1791.9 131.8 L1788.8 131.6 L1785.9 131.3 L1783.6 131.9 L1781.4 133.7 L1779.1 136.4 L1776.3 138.9 L1773.2 139.9 L1770.2 138.8 L1767.9 135.9 L1766.2 132.6 L1764.6 130.0 L1762.5 128.8 L1759.6 128.8 L1756.2 129.0 L1752.8 128.5 L1750.3 127.0 L1748.6 124.6 L1747.8 121.9 L1747.4 119.1 L1747.1 116.4 L1747.1 113.8 L1747.2 111.2 L1747.4 108.8 L1747.2 106.4 L1746.1 103.9 L1744.6 101.1 L1743.2 98.1 L1743.2 95.0 L1745.0 92.7 L1748.4 91.2 L1752.2 90.5 L1755.4 89.9 L1757.1 88.3 L1757.7 85.5 L1758.1 82.0 L1759.3 78.6 L1761.5 76.5 L1764.5 76.0 L1767.8 76.7 L1770.9 77.8 L1773.7 78.6 L1776.3 78.9 L1778.9 78.8 L1781.5 78.7 L1784.2 78.6 L1787.0 78.6 L1790.1 78.6 L1793.2 78.9 L1796.0 79.9 L1798.0 82.1 L1798.8 85.2 L1798.8 88.6 L1798.9 91.5 L1800.0 93.5 L1802.6 94.9 L1806.2 96.1 L1809.6 98.0 L1811.4 100.6 L1811.0 103.5Z" fill="#8a3a38" stroke-linejoin="round" /><path d="M1802.9 106.4 L1800.4 108.4 L1799.2 110.2 L1799.3 112.2 L1800.0 114.5 L1800.5 117.0 L1800.4 119.5 L1799.7 121.9 L1798.6 124.0 L1797.1 126.0 L1794.9 127.3 L1792.2 127.7 L1789.1 127.2 L1786.2 126.4 L1784.0 126.3 L1782.4 127.7 L1780.8 130.7 L1778.9 134.1 L1776.3 136.3 L1773.5 136.3 L1771.2 133.9 L1769.5 130.2 L1768.3 127.0 L1766.9 125.3 L1764.7 125.3 L1761.6 126.1 L1758.3 126.6 L1755.4 126.1 L1753.5 124.4 L1752.4 122.2 L1751.8 119.7 L1751.6 117.3 L1751.6 114.9 L1752.0 112.5 L1752.5 110.3 L1752.6 108.3 L1751.7 106.4 L1749.7 104.2 L1747.3 101.6 L1746.0 98.8 L1746.7 96.3 L1749.7 94.7 L1753.8 94.2 L1757.6 94.0 L1759.7 93.3 L1760.2 91.2 L1759.7 87.8 L1759.7 84.1 L1760.9 81.2 L1763.3 80.1 L1766.3 80.4 L1769.2 81.6 L1771.9 82.7 L1774.1 83.2 L1776.3 83.3 L1778.5 83.2 L1780.7 83.0 L1783.1 82.6 L1785.7 82.0 L1788.7 81.4 L1791.5 81.5 L1793.8 82.9 L1794.8 85.7 L1794.5 89.2 L1793.9 92.5 L1794.1 94.6 L1796.1 95.6 L1799.8 96.1 L1803.9 96.9 L1806.9 98.7 L1807.4 101.2 L1805.7 104.0Z" fill="#5c2020" stroke-linejoin="round" /><path d="M1802.5 106.4 L1800.9 108.4 L1798.2 110.0 L1795.2 111.2 L1792.7 112.0 L1791.2 112.9 L1790.6 114.2 L1790.6 115.8 L1790.6 117.7 L1790.3 119.6 L1789.6 121.4 L1788.6 122.9 L1787.3 124.4 L1785.9 125.8 L1784.3 127.2 L1782.5 128.3 L1780.5 128.7 L1778.3 128.1 L1776.3 126.5 L1774.7 124.1 L1773.4 121.8 L1772.4 120.2 L1771.1 119.8 L1769.3 120.5 L1766.8 122.0 L1763.7 123.3 L1760.7 124.0 L1758.2 123.4 L1756.8 121.8 L1756.5 119.5 L1756.9 116.9 L1757.6 114.6 L1758.2 112.6 L1758.4 110.9 L1758.3 109.4 L1758.2 107.9 L1758.2 106.4 L1758.3 104.9 L1758.3 103.4 L1757.9 101.8 L1757.1 99.8 L1756.0 97.5 L1755.2 95.0 L1755.3 92.6 L1756.6 90.8 L1759.0 90.1 L1762.2 90.5 L1765.4 91.7 L1768.0 92.9 L1769.9 93.4 L1771.1 92.9 L1772.0 91.2 L1773.0 88.8 L1774.5 86.5 L1776.3 84.8 L1778.4 84.1 L1780.4 84.3 L1782.4 85.1 L1784.1 86.2 L1785.7 87.4 L1787.2 88.7 L1788.4 90.2 L1789.2 91.9 L1789.5 94.0 L1789.5 95.9 L1789.6 97.6 L1790.3 98.8 L1792.0 99.5 L1794.6 100.1 L1797.8 101.0 L1800.7 102.4 L1802.4 104.3Z" fill="#3c1313" stroke-linejoin="round" />
<path d="M1700.1 150.6 C1698.1 146.2 1693.3 142.7 1689.5 142.9 C1685.7 143.2 1680.6 147.3 1677.3 152.1 C1674.0 156.9 1671.3 165.0 1669.7 171.9 C1668.1 178.7 1667.0 186.9 1667.5 193.2 C1668.1 199.6 1669.6 206.0 1672.7 210.0 C1675.9 213.9 1681.9 216.0 1686.4 217.0 C1691.0 218.0 1697.6 219.5 1700.1 216.1 C1702.7 212.6 1702.2 202.1 1701.7 196.3 C1701.2 190.4 1697.1 185.6 1697.1 181.0 C1697.1 176.5 1701.2 173.9 1701.7 168.8 C1702.2 163.8 1702.2 154.9 1700.1 150.6Z" fill="#e2a3b2" stroke="#d894a6" stroke-width="0.8" stroke-linecap="round" stroke-linejoin="round" />
<circle cx="1688.6" cy="153.0" r="5.9" fill="#dc7e84" />
<circle cx="1688.6" cy="153.0" r="3.8" fill="#cf4a4a" />
<circle cx="1681.9" cy="169.5" r="5.5" fill="#dc7e84" />
<circle cx="1681.9" cy="169.5" r="3.4" fill="#cf4a4a" />
<circle cx="1688.9" cy="185.0" r="5.1" fill="#dc7e84" />
<circle cx="1688.9" cy="185.0" r="3.0" fill="#cf4a4a" />
<circle cx="1688.9" cy="205.4" r="6.7" fill="#dc7e84" />
<circle cx="1688.9" cy="205.4" r="4.6" fill="#cf4a4a" />
<path d="M1721.5 150.6 C1723.0 146.1 1725.8 142.8 1729.1 142.3 C1732.4 141.8 1737.7 143.6 1741.3 147.5 C1744.8 151.4 1747.8 158.7 1750.4 165.8 C1753.1 172.9 1756.4 183.1 1757.1 190.2 C1757.9 197.3 1757.6 203.6 1755.0 208.5 C1752.4 213.3 1745.3 216.7 1741.3 219.1 C1737.2 221.6 1733.3 224.9 1730.6 223.1 C1728.0 221.3 1726.6 215.0 1725.4 208.5 C1724.3 202.0 1724.5 190.7 1723.6 184.1 C1722.7 177.5 1720.3 174.4 1720.0 168.8 C1719.6 163.3 1720.0 155.0 1721.5 150.6Z" fill="#e2a3b2" stroke="#d894a6" stroke-width="0.8" stroke-linecap="round" stroke-linejoin="round" />
<path d="M1723.6 184.1 C1725.5 183.1 1730.2 180.0 1735.2 178.0 C1740.2 176.0 1750.4 172.9 1753.5 171.9" fill="none" stroke="#d794a8" stroke-width="1.0" stroke-linecap="round" stroke-linejoin="round" />
<path d="M1705.3 193.2 C1707.9 190.7 1715.4 186.6 1718.4 187.1 C1721.5 187.6 1723.0 192.2 1723.6 196.3 C1724.3 200.3 1724.0 208.2 1722.4 211.5 C1720.8 214.8 1716.9 215.6 1713.9 216.1 C1710.8 216.6 1705.9 216.8 1704.1 214.5 C1702.3 212.3 1703.0 205.9 1703.2 202.4 C1703.4 198.8 1702.8 195.8 1705.3 193.2Z" fill="#d78a9c" />
<line x1="1711.4" y1="135.3" x2="1711.4" y2="170.4" stroke="#4273c4" stroke-width="5.4" stroke-linecap="butt"/>
<path d="M1701.7 180.4 L1711.4 169.4 L1721.8 180.4" fill="none" stroke="#4273c4" stroke-width="3.4" stroke-linecap="round" stroke-linejoin="round"/>
<path d="M1826.6 202.4 C1826.9 204.9 1826.1 213.8 1828.1 217.6 C1830.2 221.4 1834.2 223.7 1838.8 225.2 C1843.4 226.7 1852.8 226.5 1855.6 226.7" fill="none" stroke="#f1cfd4" stroke-width="7.5" stroke-linecap="round" stroke-linejoin="round" />
<path d="M1843.4 190.8 C1847.2 190.4 1858.1 188.7 1866.2 188.6 C1874.3 188.5 1887.8 189.9 1892.1 190.2" fill="none" stroke="#f0c4cc" stroke-width="3.6" stroke-linecap="round" stroke-linejoin="round" />
<path d="M1854.6 190.8 C1854.5 194.0 1854.1 206.8 1854.0 210.0" fill="none" stroke="#f0c4cc" stroke-width="6.0" stroke-linecap="round" stroke-linejoin="round" />
<path d="M1798.6 208.5 C1796.9 203.6 1795.9 189.4 1797.1 181.0 C1798.2 172.6 1800.4 163.2 1805.3 158.2 C1810.2 153.2 1819.0 152.0 1826.6 151.2 C1834.2 150.3 1842.9 152.8 1851.0 153.0 C1859.1 153.1 1868.9 151.7 1875.4 152.1 C1881.9 152.4 1888.5 152.6 1890.0 155.1 C1891.5 157.7 1887.7 163.0 1884.5 167.3 C1881.3 171.6 1876.4 177.1 1870.8 181.0 C1865.2 184.9 1857.3 188.2 1851.0 190.8 C1844.6 193.3 1838.3 194.3 1832.7 196.3 C1827.1 198.2 1821.8 200.1 1817.5 202.4 C1813.1 204.6 1810.0 209.0 1806.8 210.0 C1803.7 211.0 1800.2 213.3 1798.6 208.5Z" fill="#d39089" stroke="#c9827c" stroke-width="0.8" stroke-linecap="round" stroke-linejoin="round" />
<path d="M1847.9 153.0 C1848.2 156.1 1849.7 165.7 1849.5 171.9 C1849.2 178.1 1846.9 187.1 1846.4 190.2" fill="none" stroke="#c47f78" stroke-width="1.4" stroke-linecap="round" stroke-linejoin="round" />
<path d="M1808.3 173.4 C1811.4 174.2 1821.0 178.0 1826.6 178.0 C1832.2 178.0 1836.8 174.7 1841.8 173.4 C1846.9 172.1 1854.5 170.9 1857.1 170.4" fill="none" stroke="#7f9a58" stroke-width="1.6" stroke-linecap="round" stroke-linejoin="round" />
<path d="M1822.0 164.3 C1822.8 166.6 1825.3 173.2 1826.6 178.0 C1827.9 182.8 1829.1 190.7 1829.7 193.2" fill="none" stroke="#7f9a58" stroke-width="1.6" stroke-linecap="round" stroke-linejoin="round" />
<path d="M1816.9 196.3 C1817.2 194.2 1819.8 191.0 1822.0 189.6 C1824.3 188.1 1828.6 186.9 1830.3 187.7 C1831.9 188.6 1832.7 192.6 1832.1 194.7 C1831.5 196.9 1828.6 199.7 1826.6 200.8 C1824.6 202.0 1821.5 202.5 1819.9 201.8 C1818.3 201.0 1816.5 198.3 1816.9 196.3Z" fill="#4f8646" />
<path d="M1835.7 193.2 C1835.5 195.8 1834.5 205.9 1834.2 208.5" fill="none" stroke="#7fb6a0" stroke-width="1.6" stroke-linecap="round" stroke-linejoin="round" />
<circle cx="1872.9" cy="159.7" r="4.8" fill="#cc6a6a" />
<circle cx="1872.9" cy="159.7" r="3.1" fill="#c03c48" />
<circle cx="1867.7" cy="174.3" r="5.0" fill="#cc6a6a" />
<circle cx="1867.7" cy="174.3" r="3.3" fill="#c03c48" />
<circle cx="1838.8" cy="179.5" r="5.2" fill="#cc6a6a" />
<circle cx="1838.8" cy="179.5" r="3.5" fill="#c03c48" />
<circle cx="1818.1" cy="183.5" r="6.2" fill="#cc6a6a" />
<circle cx="1818.1" cy="183.5" r="4.5" fill="#c03c48" />
<circle cx="1854.0" cy="169.5" r="3.6" fill="#cc6a6a" />
<circle cx="1854.0" cy="169.5" r="1.9" fill="#c03c48" />
<line x1="1424.5" y1="240.5" x2="1875.0" y2="240.5" stroke="#141414" stroke-width="3.8" />
<polygon points="1872.5,235 1884.5,240.5 1872.5,246" fill="#141414"/>
<line x1="1490.0" y1="229.0" x2="1490.0" y2="253.6" stroke="#141414" stroke-width="3.2" />
<line x1="1766.3" y1="229.0" x2="1766.3" y2="253.6" stroke="#141414" stroke-width="3.2" />
<text x="1490.2" y="278.0" font-size="13.8" font-weight="bold" text-anchor="middle" fill="#141414" font-family='"DejaVu Sans", "Liberation Sans", sans-serif' textLength="131.6" lengthAdjust="spacingAndGlyphs" stroke="#141414" stroke-width="0.5">1x10⁶ Cells (4T1)</text>
<text x="1766.6" y="278.0" font-size="14.6" font-weight="bold" text-anchor="middle" fill="#141414" font-family='"DejaVu Sans", "Liberation Sans", sans-serif' textLength="39.6" lengthAdjust="spacingAndGlyphs" stroke="#141414" stroke-width="0.5">21st</text>
<text x="1649.5" y="333.0" font-size="20" font-weight="bold" text-anchor="middle" fill="#141414" font-family='"DejaVu Sans", "Liberation Sans", sans-serif' textLength="297.5" lengthAdjust="spacingAndGlyphs" stroke="#141414" stroke-width="0.35">Day post injection of cells</text>
</g>
<g id="panel_b">
<text x="1.9" y="434.6" font-size="56.5" font-weight="normal" text-anchor="start" fill="#0a0a0a" stroke="#0a0a0a" stroke-width="2.9" stroke-linejoin="round">B</text>
<path d="M350.0 410.4 H524.1 V503.3 H558.9 V526.5 H593.7 V689.1 H628.5 V758.8" fill="none" stroke="#cdcdcd" stroke-width="3.6"/>
<line x1="524.1" y1="410.4" x2="872.2" y2="410.4" stroke="#d4a25c" stroke-width="2.2" />
<line x1="350.0" y1="408.9" x2="350.0" y2="760.3" stroke="#0a0a0a" stroke-width="3" />
<line x1="348.5" y1="758.8" x2="873.7" y2="758.8" stroke="#0a0a0a" stroke-width="3" />
<line x1="333.0" y1="758.8" x2="350.0" y2="758.8" stroke="#0a0a0a" stroke-width="3" />
<text x="330.5" y="767.8" font-size="25" font-weight="bold" text-anchor="end" fill="#0a0a0a" stroke="#0a0a0a" stroke-width="0.22">0</text>
<line x1="333.0" y1="689.1" x2="350.0" y2="689.1" stroke="#0a0a0a" stroke-width="3" />
<text x="330.5" y="698.1" font-size="25" font-weight="bold" text-anchor="end" fill="#0a0a0a" stroke="#0a0a0a" stroke-width="0.22">20</text>
<line x1="333.0" y1="619.4" x2="350.0" y2="619.4" stroke="#0a0a0a" stroke-width="3" />
<text x="330.5" y="628.4" font-size="25" font-weight="bold" text-anchor="end" fill="#0a0a0a" stroke="#0a0a0a" stroke-width="0.22">40</text>
<line x1="333.0" y1="549.8" x2="350.0" y2="549.8" stroke="#0a0a0a" stroke-width="3" />
<text x="330.5" y="558.8" font-size="25" font-weight="bold" text-anchor="end" fill="#0a0a0a" stroke="#0a0a0a" stroke-width="0.22">60</text>
<line x1="333.0" y1="480.1" x2="350.0" y2="480.1" stroke="#0a0a0a" stroke-width="3" />
<text x="330.5" y="489.1" font-size="25" font-weight="bold" text-anchor="end" fill="#0a0a0a" stroke="#0a0a0a" stroke-width="0.22">80</text>
<line x1="333.0" y1="410.4" x2="350.0" y2="410.4" stroke="#0a0a0a" stroke-width="3" />
<text x="330.5" y="419.4" font-size="25" font-weight="bold" text-anchor="end" fill="#0a0a0a" stroke="#0a0a0a" stroke-width="0.22">100</text>
<line x1="350.0" y1="758.8" x2="350.0" y2="774.3" stroke="#0a0a0a" stroke-width="3" />
<text x="350.0" y="802.5" font-size="25" font-weight="bold" text-anchor="middle" fill="#0a0a0a" stroke="#0a0a0a" stroke-width="0.22">20</text>
<line x1="437.0" y1="758.8" x2="437.0" y2="774.3" stroke="#0a0a0a" stroke-width="3" />
<text x="437.0" y="802.5" font-size="25" font-weight="bold" text-anchor="middle" fill="#0a0a0a" stroke="#0a0a0a" stroke-width="0.22">25</text>
<line x1="524.1" y1="758.8" x2="524.1" y2="774.3" stroke="#0a0a0a" stroke-width="3" />
<text x="524.1" y="802.5" font-size="25" font-weight="bold" text-anchor="middle" fill="#0a0a0a" stroke="#0a0a0a" stroke-width="0.22">30</text>
<line x1="611.1" y1="758.8" x2="611.1" y2="774.3" stroke="#0a0a0a" stroke-width="3" />
<text x="611.1" y="802.5" font-size="25" font-weight="bold" text-anchor="middle" fill="#0a0a0a" stroke="#0a0a0a" stroke-width="0.22">35</text>
<line x1="698.1" y1="758.8" x2="698.1" y2="774.3" stroke="#0a0a0a" stroke-width="3" />
<text x="698.1" y="802.5" font-size="25" font-weight="bold" text-anchor="middle" fill="#0a0a0a" stroke="#0a0a0a" stroke-width="0.22">40</text>
<line x1="785.2" y1="758.8" x2="785.2" y2="774.3" stroke="#0a0a0a" stroke-width="3" />
<text x="785.2" y="802.5" font-size="25" font-weight="bold" text-anchor="middle" fill="#0a0a0a" stroke="#0a0a0a" stroke-width="0.22">45</text>
<line x1="872.2" y1="758.8" x2="872.2" y2="774.3" stroke="#0a0a0a" stroke-width="3" />
<text x="872.2" y="802.5" font-size="25" font-weight="bold" text-anchor="middle" fill="#0a0a0a" stroke="#0a0a0a" stroke-width="0.22">50</text>
<text x="611.5" y="845.0" font-size="28.6" font-weight="bold" text-anchor="middle" fill="#0a0a0a" stroke="#0a0a0a" stroke-width="0.26">Time (Days)</text>
<text x="269.0" y="584.0" font-size="28.8" font-weight="bold" text-anchor="middle" fill="#0a0a0a" transform="rotate(-90 269.0 584.0)" stroke="#0a0a0a" stroke-width="0.26">Survival (%)</text>
<circle cx="524.1" cy="503.3" r="6.8" fill="#d6d6d6" stroke="#4a4a4a" stroke-width="1.8" />
<circle cx="558.9" cy="526.5" r="6.8" fill="#d6d6d6" stroke="#4a4a4a" stroke-width="1.8" />
<circle cx="593.7" cy="689.1" r="6.8" fill="#d6d6d6" stroke="#4a4a4a" stroke-width="1.8" />
<circle cx="628.5" cy="758.8" r="6.8" fill="#d6d6d6" stroke="#4a4a4a" stroke-width="1.8" />
<rect x="865.0" y="404.0" width="14.2" height="14.2" fill="#c9964b" stroke="#6a6254" stroke-width="1.8" />
<line x1="873.8" y1="433.5" x2="873.8" y2="736.5" stroke="#1e1e1e" stroke-width="3.4" />
<text x="0" y="14.9" font-size="29" font-weight="bold" font-family='"DejaVu Sans", "Liberation Sans", sans-serif' text-anchor="middle" fill="#0a0a0a" stroke="#0a0a0a" stroke-width="2.0" stroke-linejoin="round" transform="translate(895.4 555.8) scale(1.08 0.92) rotate(90)">*</text>
<text x="0" y="14.9" font-size="29" font-weight="bold" font-family='"DejaVu Sans", "Liberation Sans", sans-serif' text-anchor="middle" fill="#0a0a0a" stroke="#0a0a0a" stroke-width="2.0" stroke-linejoin="round" transform="translate(895.4 576.5) scale(1.08 0.92) rotate(90)">*</text>
<text x="0" y="14.9" font-size="29" font-weight="bold" font-family='"DejaVu Sans", "Liberation Sans", sans-serif' text-anchor="middle" fill="#0a0a0a" stroke="#0a0a0a" stroke-width="2.0" stroke-linejoin="round" transform="translate(895.4 597.2) scale(1.08 0.92) rotate(90)">*</text>
<text x="363.5" y="693.5" font-size="23.4" font-weight="normal" text-anchor="start" fill="#333">HR= 17.94</text>
<text x="363.5" y="736.5" font-size="23.4" font-weight="normal" text-anchor="start" fill="#333" font-style="italic">p&lt;0.001</text>
<line x1="1110.6" y1="407.4" x2="1110.6" y2="759.8" stroke="#0a0a0a" stroke-width="3" />
<line x1="1095.6" y1="758.3" x2="1603.0" y2="758.3" stroke="#0a0a0a" stroke-width="3" />
<line x1="1095.6" y1="758.3" x2="1110.6" y2="758.3" stroke="#0a0a0a" stroke-width="3" />
<text x="1092.1" y="767.5" font-size="25.6" font-weight="bold" text-anchor="end" fill="#0a0a0a" stroke="#0a0a0a" stroke-width="0.23">0</text>
<line x1="1095.6" y1="670.9" x2="1110.6" y2="670.9" stroke="#0a0a0a" stroke-width="3" />
<text x="1092.1" y="680.1" font-size="25.6" font-weight="bold" text-anchor="end" fill="#0a0a0a" stroke="#0a0a0a" stroke-width="0.23">1</text>
<line x1="1095.6" y1="583.6" x2="1110.6" y2="583.6" stroke="#0a0a0a" stroke-width="3" />
<text x="1092.1" y="592.8" font-size="25.6" font-weight="bold" text-anchor="end" fill="#0a0a0a" stroke="#0a0a0a" stroke-width="0.23">2</text>
<line x1="1095.6" y1="496.2" x2="1110.6" y2="496.2" stroke="#0a0a0a" stroke-width="3" />
<text x="1092.1" y="505.4" font-size="25.6" font-weight="bold" text-anchor="end" fill="#0a0a0a" stroke="#0a0a0a" stroke-width="0.23">3</text>
<line x1="1095.6" y1="408.9" x2="1110.6" y2="408.9" stroke="#0a0a0a" stroke-width="3" />
<text x="1092.1" y="418.1" font-size="25.6" font-weight="bold" text-anchor="end" fill="#0a0a0a" stroke="#0a0a0a" stroke-width="0.23">4</text>
<line x1="1124.0" y1="758.3" x2="1124.0" y2="771.3" stroke="#0a0a0a" stroke-width="3" />
<text x="0" y="0" font-size="21.5" font-weight="bold" text-anchor="middle" fill="#1a1a1a" transform="translate(1124.0 798.0) scale(0.87 1)" stroke="#1a1a1a" stroke-width="0.20">0</text>
<line x1="1154.8" y1="758.3" x2="1154.8" y2="771.3" stroke="#0a0a0a" stroke-width="3" />
<text x="0" y="0" font-size="21.5" font-weight="bold" text-anchor="middle" fill="#1a1a1a" transform="translate(1154.8 798.0) scale(0.87 1)" stroke="#1a1a1a" stroke-width="0.20">2</text>
<line x1="1185.6" y1="758.3" x2="1185.6" y2="771.3" stroke="#0a0a0a" stroke-width="3" />
<text x="0" y="0" font-size="21.5" font-weight="bold" text-anchor="middle" fill="#1a1a1a" transform="translate(1185.6 798.0) scale(0.87 1)" stroke="#1a1a1a" stroke-width="0.20">4</text>
<line x1="1216.3" y1="758.3" x2="1216.3" y2="771.3" stroke="#0a0a0a" stroke-width="3" />
<text x="0" y="0" font-size="21.5" font-weight="bold" text-anchor="middle" fill="#1a1a1a" transform="translate(1216.3 798.0) scale(0.87 1)" stroke="#1a1a1a" stroke-width="0.20">6</text>
<line x1="1247.1" y1="758.3" x2="1247.1" y2="771.3" stroke="#0a0a0a" stroke-width="3" />
<text x="0" y="0" font-size="21.5" font-weight="bold" text-anchor="middle" fill="#1a1a1a" transform="translate(1247.1 798.0) scale(0.87 1)" stroke="#1a1a1a" stroke-width="0.20">8</text>
<line x1="1277.9" y1="758.3" x2="1277.9" y2="771.3" stroke="#0a0a0a" stroke-width="3" />
<text x="0" y="0" font-size="21.5" font-weight="bold" text-anchor="middle" fill="#1a1a1a" transform="translate(1277.9 798.0) scale(0.87 1)" stroke="#1a1a1a" stroke-width="0.20">10</text>
<line x1="1308.7" y1="758.3" x2="1308.7" y2="771.3" stroke="#0a0a0a" stroke-width="3" />
<text x="0" y="0" font-size="21.5" font-weight="bold" text-anchor="middle" fill="#1a1a1a" transform="translate(1308.7 798.0) scale(0.87 1)" stroke="#1a1a1a" stroke-width="0.20">12</text>
<line x1="1339.5" y1="758.3" x2="1339.5" y2="771.3" stroke="#0a0a0a" stroke-width="3" />
<text x="0" y="0" font-size="21.5" font-weight="bold" text-anchor="middle" fill="#1a1a1a" transform="translate(1339.5 798.0) scale(0.87 1)" stroke="#1a1a1a" stroke-width="0.20">14</text>
<line x1="1370.2" y1="758.3" x2="1370.2" y2="771.3" stroke="#0a0a0a" stroke-width="3" />
<text x="0" y="0" font-size="21.5" font-weight="bold" text-anchor="middle" fill="#1a1a1a" transform="translate(1370.2 798.0) scale(0.87 1)" stroke="#1a1a1a" stroke-width="0.20">16</text>
<line x1="1401.0" y1="758.3" x2="1401.0" y2="771.3" stroke="#0a0a0a" stroke-width="3" />
<text x="0" y="0" font-size="21.5" font-weight="bold" text-anchor="middle" fill="#1a1a1a" transform="translate(1401.0 798.0) scale(0.87 1)" stroke="#1a1a1a" stroke-width="0.20">18</text>
<line x1="1431.8" y1="758.3" x2="1431.8" y2="771.3" stroke="#0a0a0a" stroke-width="3" />
<text x="0" y="0" font-size="21.5" font-weight="bold" text-anchor="middle" fill="#1a1a1a" transform="translate(1431.8 798.0) scale(0.87 1)" stroke="#1a1a1a" stroke-width="0.20">20</text>
<line x1="1462.6" y1="758.3" x2="1462.6" y2="771.3" stroke="#0a0a0a" stroke-width="3" />
<text x="0" y="0" font-size="21.5" font-weight="bold" text-anchor="middle" fill="#1a1a1a" transform="translate(1462.6 798.0) scale(0.87 1)" stroke="#1a1a1a" stroke-width="0.20">22</text>
<line x1="1493.4" y1="758.3" x2="1493.4" y2="771.3" stroke="#0a0a0a" stroke-width="3" />
<text x="0" y="0" font-size="21.5" font-weight="bold" text-anchor="middle" fill="#1a1a1a" transform="translate(1493.4 798.0) scale(0.87 1)" stroke="#1a1a1a" stroke-width="0.20">24</text>
<line x1="1524.1" y1="758.3" x2="1524.1" y2="771.3" stroke="#0a0a0a" stroke-width="3" />
<text x="0" y="0" font-size="21.5" font-weight="bold" text-anchor="middle" fill="#1a1a1a" transform="translate(1524.1 798.0) scale(0.87 1)" stroke="#1a1a1a" stroke-width="0.20">26</text>
<line x1="1554.9" y1="758.3" x2="1554.9" y2="771.3" stroke="#0a0a0a" stroke-width="3" />
<text x="0" y="0" font-size="21.5" font-weight="bold" text-anchor="middle" fill="#1a1a1a" transform="translate(1554.9 798.0) scale(0.87 1)" stroke="#1a1a1a" stroke-width="0.20">28</text>
<line x1="1585.7" y1="758.3" x2="1585.7" y2="771.3" stroke="#0a0a0a" stroke-width="3" />
<text x="0" y="0" font-size="21.5" font-weight="bold" text-anchor="middle" fill="#1a1a1a" transform="translate(1585.7 798.0) scale(0.87 1)" stroke="#1a1a1a" stroke-width="0.20">30</text>
<text x="1355.0" y="855.5" font-size="29.4" font-weight="bold" text-anchor="middle" fill="#0a0a0a" stroke="#0a0a0a" stroke-width="0.26">Time (Days)</text>
<text x="1033.5" y="582.0" font-size="29.2" font-weight="bold" text-anchor="middle" fill="#0a0a0a" transform="rotate(-90 1033.5 582.0)" stroke="#0a0a0a" stroke-width="0.26">Clinical score</text>
<line x1="1308.7" y1="728.6" x2="1308.7" y2="753.1" stroke="#8a8a8a" stroke-width="2.9" />
<line x1="1301.2" y1="728.6" x2="1316.2" y2="728.6" stroke="#3a3a3a" stroke-width="1.7" />
<line x1="1301.2" y1="753.1" x2="1316.2" y2="753.1" stroke="#3a3a3a" stroke-width="1.7" />
<line x1="1339.5" y1="728.6" x2="1339.5" y2="753.1" stroke="#8a8a8a" stroke-width="2.9" />
<line x1="1332.0" y1="728.6" x2="1347.0" y2="728.6" stroke="#3a3a3a" stroke-width="1.7" />
<line x1="1332.0" y1="753.1" x2="1347.0" y2="753.1" stroke="#3a3a3a" stroke-width="1.7" />
<line x1="1370.2" y1="718.1" x2="1370.2" y2="746.1" stroke="#8a8a8a" stroke-width="2.9" />
<line x1="1362.7" y1="718.1" x2="1377.7" y2="718.1" stroke="#3a3a3a" stroke-width="1.7" />
<line x1="1362.7" y1="746.1" x2="1377.7" y2="746.1" stroke="#3a3a3a" stroke-width="1.7" />
<line x1="1401.0" y1="691.9" x2="1401.0" y2="719.9" stroke="#8a8a8a" stroke-width="2.9" />
<line x1="1393.5" y1="691.9" x2="1408.5" y2="691.9" stroke="#3a3a3a" stroke-width="1.7" />
<line x1="1393.5" y1="719.9" x2="1408.5" y2="719.9" stroke="#3a3a3a" stroke-width="1.7" />
<line x1="1431.8" y1="676.2" x2="1431.8" y2="700.6" stroke="#8a8a8a" stroke-width="2.9" />
<line x1="1424.3" y1="676.2" x2="1439.3" y2="676.2" stroke="#3a3a3a" stroke-width="1.7" />
<line x1="1424.3" y1="700.6" x2="1439.3" y2="700.6" stroke="#3a3a3a" stroke-width="1.7" />
<line x1="1462.6" y1="616.8" x2="1462.6" y2="655.2" stroke="#8a8a8a" stroke-width="2.9" />
<line x1="1455.1" y1="616.8" x2="1470.1" y2="616.8" stroke="#3a3a3a" stroke-width="1.7" />
<line x1="1455.1" y1="655.2" x2="1470.1" y2="655.2" stroke="#3a3a3a" stroke-width="1.7" />
<line x1="1493.4" y1="590.6" x2="1493.4" y2="629.0" stroke="#8a8a8a" stroke-width="2.9" />
<line x1="1485.9" y1="590.6" x2="1500.9" y2="590.6" stroke="#3a3a3a" stroke-width="1.7" />
<line x1="1485.9" y1="629.0" x2="1500.9" y2="629.0" stroke="#3a3a3a" stroke-width="1.7" />
<line x1="1524.1" y1="583.6" x2="1524.1" y2="618.5" stroke="#8a8a8a" stroke-width="2.9" />
<line x1="1516.6" y1="583.6" x2="1531.6" y2="583.6" stroke="#3a3a3a" stroke-width="1.7" />
<line x1="1516.6" y1="618.5" x2="1531.6" y2="618.5" stroke="#3a3a3a" stroke-width="1.7" />
<line x1="1554.9" y1="571.4" x2="1554.9" y2="613.3" stroke="#8a8a8a" stroke-width="2.9" />
<line x1="1547.4" y1="571.4" x2="1562.4" y2="571.4" stroke="#3a3a3a" stroke-width="1.7" />
<line x1="1547.4" y1="613.3" x2="1562.4" y2="613.3" stroke="#3a3a3a" stroke-width="1.7" />
<line x1="1585.7" y1="505.0" x2="1585.7" y2="557.4" stroke="#8a8a8a" stroke-width="2.9" />
<line x1="1578.2" y1="505.0" x2="1593.2" y2="505.0" stroke="#3a3a3a" stroke-width="1.7" />
<line x1="1578.2" y1="557.4" x2="1593.2" y2="557.4" stroke="#3a3a3a" stroke-width="1.7" />
<polyline points="1124.0,758.3 1154.8,758.3 1185.6,758.3 1216.3,758.3 1247.1,758.3 1277.9,758.3 1308.7,740.8 1339.5,740.8 1370.2,732.1 1401.0,705.9 1431.8,688.4 1462.6,636.0 1493.4,609.8 1524.1,601.1 1554.9,592.3 1585.7,531.2" fill="none" stroke="#1a1a1a" stroke-width="1.5"/>
<rect x="1117.3" y="751.6" width="13.4" height="13.4" fill="#4a3c28" stroke="#2a2a2a" stroke-width="1.6" rx="3.6"/>
<rect x="1148.1" y="751.6" width="13.4" height="13.4" fill="#4a3c28" stroke="#2a2a2a" stroke-width="1.6" rx="3.6"/>
<rect x="1178.9" y="751.6" width="13.4" height="13.4" fill="#4a3c28" stroke="#2a2a2a" stroke-width="1.6" rx="3.6"/>
<rect x="1209.6" y="751.6" width="13.4" height="13.4" fill="#4a3c28" stroke="#2a2a2a" stroke-width="1.6" rx="3.6"/>
<rect x="1240.4" y="751.6" width="13.4" height="13.4" fill="#4a3c28" stroke="#2a2a2a" stroke-width="1.6" rx="3.6"/>
<rect x="1271.2" y="751.6" width="13.4" height="13.4" fill="#4a3c28" stroke="#2a2a2a" stroke-width="1.6" rx="3.6"/>
<rect x="1301.7" y="733.8" width="14.0" height="14.0" fill="#c9964b" stroke="#3a3226" stroke-width="1.4" />
<rect x="1332.5" y="733.8" width="14.0" height="14.0" fill="#c9964b" stroke="#3a3226" stroke-width="1.4" />
<rect x="1363.2" y="725.1" width="14.0" height="14.0" fill="#c9964b" stroke="#3a3226" stroke-width="1.4" />
<rect x="1394.0" y="698.9" width="14.0" height="14.0" fill="#c9964b" stroke="#3a3226" stroke-width="1.4" />
<rect x="1424.8" y="681.4" width="14.0" height="14.0" fill="#c9964b" stroke="#3a3226" stroke-width="1.4" />
<rect x="1455.6" y="629.0" width="14.0" height="14.0" fill="#c9964b" stroke="#3a3226" stroke-width="1.4" />
<rect x="1486.4" y="602.8" width="14.0" height="14.0" fill="#c9964b" stroke="#3a3226" stroke-width="1.4" />
<rect x="1517.1" y="594.1" width="14.0" height="14.0" fill="#c9964b" stroke="#3a3226" stroke-width="1.4" />
<rect x="1547.9" y="585.3" width="14.0" height="14.0" fill="#c9964b" stroke="#3a3226" stroke-width="1.4" />
<rect x="1578.7" y="524.2" width="14.0" height="14.0" fill="#c9964b" stroke="#3a3226" stroke-width="1.4" />
<circle cx="1124.0" cy="758.3" r="6.0" fill="#dedede" stroke="#2e2e2e" stroke-width="2.0" />
<circle cx="1154.8" cy="758.3" r="6.0" fill="#dedede" stroke="#2e2e2e" stroke-width="2.0" />
<circle cx="1185.6" cy="758.3" r="6.0" fill="#dedede" stroke="#2e2e2e" stroke-width="2.0" />
<circle cx="1216.3" cy="758.3" r="6.0" fill="#dedede" stroke="#2e2e2e" stroke-width="2.0" />
<circle cx="1247.1" cy="758.3" r="6.0" fill="#dedede" stroke="#2e2e2e" stroke-width="2.0" />
<circle cx="1277.9" cy="758.3" r="6.0" fill="#dedede" stroke="#2e2e2e" stroke-width="2.0" />
<circle cx="1308.7" cy="758.3" r="6.8" fill="#d6d6d6" stroke="#4a4a4a" stroke-width="1.8" />
<circle cx="1339.5" cy="758.3" r="6.8" fill="#d6d6d6" stroke="#4a4a4a" stroke-width="1.8" />
<circle cx="1370.2" cy="758.3" r="6.8" fill="#d6d6d6" stroke="#4a4a4a" stroke-width="1.8" />
<circle cx="1401.0" cy="758.3" r="6.8" fill="#d6d6d6" stroke="#4a4a4a" stroke-width="1.8" />
<circle cx="1431.8" cy="758.3" r="6.8" fill="#d6d6d6" stroke="#4a4a4a" stroke-width="1.8" />
<circle cx="1462.6" cy="758.3" r="6.8" fill="#d6d6d6" stroke="#4a4a4a" stroke-width="1.8" />
<circle cx="1493.4" cy="758.3" r="6.8" fill="#d6d6d6" stroke="#4a4a4a" stroke-width="1.8" />
<circle cx="1524.1" cy="758.3" r="6.8" fill="#d6d6d6" stroke="#4a4a4a" stroke-width="1.8" />
<circle cx="1554.9" cy="758.3" r="6.8" fill="#d6d6d6" stroke="#4a4a4a" stroke-width="1.8" />
<circle cx="1585.7" cy="758.3" r="6.8" fill="#d6d6d6" stroke="#4a4a4a" stroke-width="1.8" />
<text x="0" y="13.6" font-size="26.5" font-weight="bold" font-family='"DejaVu Sans", "Liberation Sans", sans-serif' text-anchor="middle" fill="#0a0a0a" stroke="#0a0a0a" stroke-width="1.9" stroke-linejoin="round" transform="translate(1401.5 676.0) scale(1.08 0.92) rotate(90)">*</text>
<text x="0" y="13.6" font-size="26.5" font-weight="bold" font-family='"DejaVu Sans", "Liberation Sans", sans-serif' text-anchor="middle" fill="#0a0a0a" stroke="#0a0a0a" stroke-width="1.9" stroke-linejoin="round" transform="translate(1432.3 668.0) scale(1.08 0.92) rotate(90)">*</text><text x="0" y="13.6" font-size="26.5" font-weight="bold" font-family='"DejaVu Sans", "Liberation Sans", sans-serif' text-anchor="middle" fill="#0a0a0a" stroke="#0a0a0a" stroke-width="1.9" stroke-linejoin="round" transform="translate(1432.3 649.6) scale(1.08 0.92) rotate(90)">*</text>
<text x="0" y="13.6" font-size="26.5" font-weight="bold" font-family='"DejaVu Sans", "Liberation Sans", sans-serif' text-anchor="middle" fill="#0a0a0a" stroke="#0a0a0a" stroke-width="1.9" stroke-linejoin="round" transform="translate(1463.1 609.0) scale(1.08 0.92) rotate(90)">*</text><text x="0" y="13.6" font-size="26.5" font-weight="bold" font-family='"DejaVu Sans", "Liberation Sans", sans-serif' text-anchor="middle" fill="#0a0a0a" stroke="#0a0a0a" stroke-width="1.9" stroke-linejoin="round" transform="translate(1463.1 590.6) scale(1.08 0.92) rotate(90)">*</text><text x="0" y="13.6" font-size="26.5" font-weight="bold" font-family='"DejaVu Sans", "Liberation Sans", sans-serif' text-anchor="middle" fill="#0a0a0a" stroke="#0a0a0a" stroke-width="1.9" stroke-linejoin="round" transform="translate(1463.1 572.2) scale(1.08 0.92) rotate(90)">*</text>
<text x="0" y="13.6" font-size="26.5" font-weight="bold" font-family='"DejaVu Sans", "Liberation Sans", sans-serif' text-anchor="middle" fill="#0a0a0a" stroke="#0a0a0a" stroke-width="1.9" stroke-linejoin="round" transform="translate(1493.9 581.0) scale(1.08 0.92) rotate(90)">*</text><text x="0" y="13.6" font-size="26.5" font-weight="bold" font-family='"DejaVu Sans", "Liberation Sans", sans-serif' text-anchor="middle" fill="#0a0a0a" stroke="#0a0a0a" stroke-width="1.9" stroke-linejoin="round" transform="translate(1493.9 562.6) scale(1.08 0.92) rotate(90)">*</text><text x="0" y="13.6" font-size="26.5" font-weight="bold" font-family='"DejaVu Sans", "Liberation Sans", sans-serif' text-anchor="middle" fill="#0a0a0a" stroke="#0a0a0a" stroke-width="1.9" stroke-linejoin="round" transform="translate(1493.9 544.2) scale(1.08 0.92) rotate(90)">*</text>
<text x="0" y="13.6" font-size="26.5" font-weight="bold" font-family='"DejaVu Sans", "Liberation Sans", sans-serif' text-anchor="middle" fill="#0a0a0a" stroke="#0a0a0a" stroke-width="1.9" stroke-linejoin="round" transform="translate(1524.6 573.0) scale(1.08 0.92) rotate(90)">*</text><text x="0" y="13.6" font-size="26.5" font-weight="bold" font-family='"DejaVu Sans", "Liberation Sans", sans-serif' text-anchor="middle" fill="#0a0a0a" stroke="#0a0a0a" stroke-width="1.9" stroke-linejoin="round" transform="translate(1524.6 554.6) scale(1.08 0.92) rotate(90)">*</text><text x="0" y="13.6" font-size="26.5" font-weight="bold" font-family='"DejaVu Sans", "Liberation Sans", sans-serif' text-anchor="middle" fill="#0a0a0a" stroke="#0a0a0a" stroke-width="1.9" stroke-linejoin="round" transform="translate(1524.6 536.2) scale(1.08 0.92) rotate(90)">*</text>
<text x="0" y="13.6" font-size="26.5" font-weight="bold" font-family='"DejaVu Sans", "Liberation Sans", sans-serif' text-anchor="middle" fill="#0a0a0a" stroke="#0a0a0a" stroke-width="1.9" stroke-linejoin="round" transform="translate(1555.4 561.0) scale(1.08 0.92) rotate(90)">*</text><text x="0" y="13.6" font-size="26.5" font-weight="bold" font-family='"DejaVu Sans", "Liberation Sans", sans-serif' text-anchor="middle" fill="#0a0a0a" stroke="#0a0a0a" stroke-width="1.9" stroke-linejoin="round" transform="translate(1555.4 542.6) scale(1.08 0.92) rotate(90)">*</text><text x="0" y="13.6" font-size="26.5" font-weight="bold" font-family='"DejaVu Sans", "Liberation Sans", sans-serif' text-anchor="middle" fill="#0a0a0a" stroke="#0a0a0a" stroke-width="1.9" stroke-linejoin="round" transform="translate(1555.4 524.2) scale(1.08 0.92) rotate(90)">*</text>
<text x="0" y="13.6" font-size="26.5" font-weight="bold" font-family='"DejaVu Sans", "Liberation Sans", sans-serif' text-anchor="middle" fill="#0a0a0a" stroke="#0a0a0a" stroke-width="1.9" stroke-linejoin="round" transform="translate(1586.2 494.0) scale(1.08 0.92) rotate(90)">*</text><text x="0" y="13.6" font-size="26.5" font-weight="bold" font-family='"DejaVu Sans", "Liberation Sans", sans-serif' text-anchor="middle" fill="#0a0a0a" stroke="#0a0a0a" stroke-width="1.9" stroke-linejoin="round" transform="translate(1586.2 475.6) scale(1.08 0.92) rotate(90)">*</text><text x="0" y="13.6" font-size="26.5" font-weight="bold" font-family='"DejaVu Sans", "Liberation Sans", sans-serif' text-anchor="middle" fill="#0a0a0a" stroke="#0a0a0a" stroke-width="1.9" stroke-linejoin="round" transform="translate(1586.2 457.2) scale(1.08 0.92) rotate(90)">*</text>
<line x1="350.0" y1="923.8" x2="350.0" y2="1279.7" stroke="#0a0a0a" stroke-width="3" />
<line x1="335.0" y1="1278.2" x2="847.0" y2="1278.2" stroke="#0a0a0a" stroke-width="3" />
<line x1="335.0" y1="1278.2" x2="350.0" y2="1278.2" stroke="#0a0a0a" stroke-width="3" />
<text x="331.5" y="1287.4" font-size="25.6" font-weight="bold" text-anchor="end" fill="#0a0a0a" stroke="#0a0a0a" stroke-width="0.23">0</text>
<line x1="335.0" y1="1207.6" x2="350.0" y2="1207.6" stroke="#0a0a0a" stroke-width="3" />
<text x="331.5" y="1216.8" font-size="25.6" font-weight="bold" text-anchor="end" fill="#0a0a0a" stroke="#0a0a0a" stroke-width="0.23">1000</text>
<line x1="335.0" y1="1137.0" x2="350.0" y2="1137.0" stroke="#0a0a0a" stroke-width="3" />
<text x="331.5" y="1146.2" font-size="25.6" font-weight="bold" text-anchor="end" fill="#0a0a0a" stroke="#0a0a0a" stroke-width="0.23">2000</text>
<line x1="335.0" y1="1066.5" x2="350.0" y2="1066.5" stroke="#0a0a0a" stroke-width="3" />
<text x="331.5" y="1075.7" font-size="25.6" font-weight="bold" text-anchor="end" fill="#0a0a0a" stroke="#0a0a0a" stroke-width="0.23">3000</text>
<line x1="335.0" y1="995.9" x2="350.0" y2="995.9" stroke="#0a0a0a" stroke-width="3" />
<text x="331.5" y="1005.1" font-size="25.6" font-weight="bold" text-anchor="end" fill="#0a0a0a" stroke="#0a0a0a" stroke-width="0.23">4000</text>
<line x1="335.0" y1="925.3" x2="350.0" y2="925.3" stroke="#0a0a0a" stroke-width="3" />
<text x="331.5" y="934.5" font-size="25.6" font-weight="bold" text-anchor="end" fill="#0a0a0a" stroke="#0a0a0a" stroke-width="0.23">5000</text>
<line x1="365.0" y1="1278.2" x2="365.0" y2="1291.2" stroke="#0a0a0a" stroke-width="3" />
<text x="0" y="0" font-size="21.5" font-weight="bold" text-anchor="middle" fill="#1a1a1a" transform="translate(365.0 1315.0) scale(0.87 1)" stroke="#1a1a1a" stroke-width="0.20">0</text>
<line x1="396.0" y1="1278.2" x2="396.0" y2="1291.2" stroke="#0a0a0a" stroke-width="3" />
<text x="0" y="0" font-size="21.5" font-weight="bold" text-anchor="middle" fill="#1a1a1a" transform="translate(396.0 1315.0) scale(0.87 1)" stroke="#1a1a1a" stroke-width="0.20">2</text>
<line x1="426.9" y1="1278.2" x2="426.9" y2="1291.2" stroke="#0a0a0a" stroke-width="3" />
<text x="0" y="0" font-size="21.5" font-weight="bold" text-anchor="middle" fill="#1a1a1a" transform="translate(426.9 1315.0) scale(0.87 1)" stroke="#1a1a1a" stroke-width="0.20">4</text>
<line x1="457.9" y1="1278.2" x2="457.9" y2="1291.2" stroke="#0a0a0a" stroke-width="3" />
<text x="0" y="0" font-size="21.5" font-weight="bold" text-anchor="middle" fill="#1a1a1a" transform="translate(457.9 1315.0) scale(0.87 1)" stroke="#1a1a1a" stroke-width="0.20">6</text>
<line x1="488.9" y1="1278.2" x2="488.9" y2="1291.2" stroke="#0a0a0a" stroke-width="3" />
<text x="0" y="0" font-size="21.5" font-weight="bold" text-anchor="middle" fill="#1a1a1a" transform="translate(488.9 1315.0) scale(0.87 1)" stroke="#1a1a1a" stroke-width="0.20">8</text>
<line x1="519.9" y1="1278.2" x2="519.9" y2="1291.2" stroke="#0a0a0a" stroke-width="3" />
<text x="0" y="0" font-size="21.5" font-weight="bold" text-anchor="middle" fill="#1a1a1a" transform="translate(519.9 1315.0) scale(0.87 1)" stroke="#1a1a1a" stroke-width="0.20">10</text>
<line x1="550.8" y1="1278.2" x2="550.8" y2="1291.2" stroke="#0a0a0a" stroke-width="3" />
<text x="0" y="0" font-size="21.5" font-weight="bold" text-anchor="middle" fill="#1a1a1a" transform="translate(550.8 1315.0) scale(0.87 1)" stroke="#1a1a1a" stroke-width="0.20">12</text>
<line x1="581.8" y1="1278.2" x2="581.8" y2="1291.2" stroke="#0a0a0a" stroke-width="3" />
<text x="0" y="0" font-size="21.5" font-weight="bold" text-anchor="middle" fill="#1a1a1a" transform="translate(581.8 1315.0) scale(0.87 1)" stroke="#1a1a1a" stroke-width="0.20">14</text>
<line x1="612.8" y1="1278.2" x2="612.8" y2="1291.2" stroke="#0a0a0a" stroke-width="3" />
<text x="0" y="0" font-size="21.5" font-weight="bold" text-anchor="middle" fill="#1a1a1a" transform="translate(612.8 1315.0) scale(0.87 1)" stroke="#1a1a1a" stroke-width="0.20">16</text>
<line x1="643.8" y1="1278.2" x2="643.8" y2="1291.2" stroke="#0a0a0a" stroke-width="3" />
<text x="0" y="0" font-size="21.5" font-weight="bold" text-anchor="middle" fill="#1a1a1a" transform="translate(643.8 1315.0) scale(0.87 1)" stroke="#1a1a1a" stroke-width="0.20">18</text>
<line x1="674.7" y1="1278.2" x2="674.7" y2="1291.2" stroke="#0a0a0a" stroke-width="3" />
<text x="0" y="0" font-size="21.5" font-weight="bold" text-anchor="middle" fill="#1a1a1a" transform="translate(674.7 1315.0) scale(0.87 1)" stroke="#1a1a1a" stroke-width="0.20">20</text>
<line x1="705.7" y1="1278.2" x2="705.7" y2="1291.2" stroke="#0a0a0a" stroke-width="3" />
<text x="0" y="0" font-size="21.5" font-weight="bold" text-anchor="middle" fill="#1a1a1a" transform="translate(705.7 1315.0) scale(0.87 1)" stroke="#1a1a1a" stroke-width="0.20">22</text>
<line x1="736.7" y1="1278.2" x2="736.7" y2="1291.2" stroke="#0a0a0a" stroke-width="3" />
<text x="0" y="0" font-size="21.5" font-weight="bold" text-anchor="middle" fill="#1a1a1a" transform="translate(736.7 1315.0) scale(0.87 1)" stroke="#1a1a1a" stroke-width="0.20">24</text>
<line x1="767.7" y1="1278.2" x2="767.7" y2="1291.2" stroke="#0a0a0a" stroke-width="3" />
<text x="0" y="0" font-size="21.5" font-weight="bold" text-anchor="middle" fill="#1a1a1a" transform="translate(767.7 1315.0) scale(0.87 1)" stroke="#1a1a1a" stroke-width="0.20">26</text>
<line x1="798.6" y1="1278.2" x2="798.6" y2="1291.2" stroke="#0a0a0a" stroke-width="3" />
<text x="0" y="0" font-size="21.5" font-weight="bold" text-anchor="middle" fill="#1a1a1a" transform="translate(798.6 1315.0) scale(0.87 1)" stroke="#1a1a1a" stroke-width="0.20">28</text>
<line x1="829.6" y1="1278.2" x2="829.6" y2="1291.2" stroke="#0a0a0a" stroke-width="3" />
<text x="0" y="0" font-size="21.5" font-weight="bold" text-anchor="middle" fill="#1a1a1a" transform="translate(829.6 1315.0) scale(0.87 1)" stroke="#1a1a1a" stroke-width="0.20">30</text>
<text x="597.0" y="1373.0" font-size="29.4" font-weight="bold" text-anchor="middle" fill="#0a0a0a" stroke="#0a0a0a" stroke-width="0.26">Time (Days)</text>
<text x="230.5" y="1103.0" font-size="29.5" font-weight="bold" text-anchor="middle" fill="#0a0a0a" transform="rotate(-90 230.5 1103.0)" stroke="#0a0a0a" stroke-width="0.27">Tumor size (mm<tspan dy="-11" font-size="19">3</tspan><tspan dy="11">)</tspan></text>
<line x1="519.9" y1="1249.3" x2="519.9" y2="1257.7" stroke="#8a8a8a" stroke-width="2.9" />
<line x1="512.4" y1="1249.3" x2="527.4" y2="1249.3" stroke="#3a3a3a" stroke-width="1.7" />
<line x1="512.4" y1="1257.7" x2="527.4" y2="1257.7" stroke="#3a3a3a" stroke-width="1.7" />
<line x1="550.8" y1="1242.2" x2="550.8" y2="1250.7" stroke="#8a8a8a" stroke-width="2.9" />
<line x1="543.3" y1="1242.2" x2="558.3" y2="1242.2" stroke="#3a3a3a" stroke-width="1.7" />
<line x1="543.3" y1="1250.7" x2="558.3" y2="1250.7" stroke="#3a3a3a" stroke-width="1.7" />
<line x1="581.8" y1="1214.7" x2="581.8" y2="1227.4" stroke="#8a8a8a" stroke-width="2.9" />
<line x1="574.3" y1="1214.7" x2="589.3" y2="1214.7" stroke="#3a3a3a" stroke-width="1.7" />
<line x1="574.3" y1="1227.4" x2="589.3" y2="1227.4" stroke="#3a3a3a" stroke-width="1.7" />
<line x1="612.8" y1="1187.9" x2="612.8" y2="1203.4" stroke="#8a8a8a" stroke-width="2.9" />
<line x1="605.3" y1="1187.9" x2="620.3" y2="1187.9" stroke="#3a3a3a" stroke-width="1.7" />
<line x1="605.3" y1="1203.4" x2="620.3" y2="1203.4" stroke="#3a3a3a" stroke-width="1.7" />
<line x1="643.8" y1="1154.0" x2="643.8" y2="1170.9" stroke="#8a8a8a" stroke-width="2.9" />
<line x1="636.3" y1="1154.0" x2="651.3" y2="1154.0" stroke="#3a3a3a" stroke-width="1.7" />
<line x1="636.3" y1="1170.9" x2="651.3" y2="1170.9" stroke="#3a3a3a" stroke-width="1.7" />
<line x1="674.7" y1="1114.5" x2="674.7" y2="1141.3" stroke="#8a8a8a" stroke-width="2.9" />
<line x1="667.2" y1="1114.5" x2="682.2" y2="1114.5" stroke="#3a3a3a" stroke-width="1.7" />
<line x1="667.2" y1="1141.3" x2="682.2" y2="1141.3" stroke="#3a3a3a" stroke-width="1.7" />
<line x1="705.7" y1="1086.2" x2="705.7" y2="1115.9" stroke="#8a8a8a" stroke-width="2.9" />
<line x1="698.2" y1="1086.2" x2="713.2" y2="1086.2" stroke="#3a3a3a" stroke-width="1.7" />
<line x1="698.2" y1="1115.9" x2="713.2" y2="1115.9" stroke="#3a3a3a" stroke-width="1.7" />
<line x1="736.7" y1="1063.6" x2="736.7" y2="1100.3" stroke="#8a8a8a" stroke-width="2.9" />
<line x1="729.2" y1="1063.6" x2="744.2" y2="1063.6" stroke="#3a3a3a" stroke-width="1.7" />
<line x1="729.2" y1="1100.3" x2="744.2" y2="1100.3" stroke="#3a3a3a" stroke-width="1.7" />
<line x1="767.7" y1="1036.8" x2="767.7" y2="1080.6" stroke="#8a8a8a" stroke-width="2.9" />
<line x1="760.2" y1="1036.8" x2="775.2" y2="1036.8" stroke="#3a3a3a" stroke-width="1.7" />
<line x1="760.2" y1="1080.6" x2="775.2" y2="1080.6" stroke="#3a3a3a" stroke-width="1.7" />
<line x1="798.6" y1="1005.8" x2="798.6" y2="1052.3" stroke="#8a8a8a" stroke-width="2.9" />
<line x1="791.1" y1="1005.8" x2="806.1" y2="1005.8" stroke="#3a3a3a" stroke-width="1.7" />
<line x1="791.1" y1="1052.3" x2="806.1" y2="1052.3" stroke="#3a3a3a" stroke-width="1.7" />
<line x1="829.6" y1="992.4" x2="829.6" y2="1040.3" stroke="#8a8a8a" stroke-width="2.9" />
<line x1="822.1" y1="992.4" x2="837.1" y2="992.4" stroke="#3a3a3a" stroke-width="1.7" />
<line x1="822.1" y1="1040.3" x2="837.1" y2="1040.3" stroke="#3a3a3a" stroke-width="1.7" />
<polyline points="365.0,1278.2 396.0,1278.2 426.9,1276.1 457.9,1273.3 488.9,1264.8 519.9,1253.5 550.8,1246.4 581.8,1221.0 612.8,1195.6 643.8,1162.4 674.7,1127.9 705.7,1101.0 736.7,1082.0 767.7,1058.7 798.6,1029.1 829.6,1016.3" fill="none" stroke="#1a1a1a" stroke-width="1.5"/>
<rect x="358.3" y="1271.5" width="13.4" height="13.4" fill="#4a3c28" stroke="#2a2a2a" stroke-width="1.6" rx="3.6"/>
<rect x="389.3" y="1271.5" width="13.4" height="13.4" fill="#4a3c28" stroke="#2a2a2a" stroke-width="1.6" rx="3.6"/>
<rect x="419.9" y="1269.1" width="14.0" height="14.0" fill="#c9964b" stroke="#3a3226" stroke-width="1.4" />
<rect x="450.9" y="1266.3" width="14.0" height="14.0" fill="#c9964b" stroke="#3a3226" stroke-width="1.4" />
<rect x="481.9" y="1257.8" width="14.0" height="14.0" fill="#c9964b" stroke="#3a3226" stroke-width="1.4" />
<rect x="512.9" y="1246.5" width="14.0" height="14.0" fill="#c9964b" stroke="#3a3226" stroke-width="1.4" />
<rect x="543.8" y="1239.4" width="14.0" height="14.0" fill="#c9964b" stroke="#3a3226" stroke-width="1.4" />
<rect x="574.8" y="1214.0" width="14.0" height="14.0" fill="#c9964b" stroke="#3a3226" stroke-width="1.4" />
<rect x="605.8" y="1188.6" width="14.0" height="14.0" fill="#c9964b" stroke="#3a3226" stroke-width="1.4" />
<rect x="636.8" y="1155.4" width="14.0" height="14.0" fill="#c9964b" stroke="#3a3226" stroke-width="1.4" />
<rect x="667.7" y="1120.9" width="14.0" height="14.0" fill="#c9964b" stroke="#3a3226" stroke-width="1.4" />
<rect x="698.7" y="1094.0" width="14.0" height="14.0" fill="#c9964b" stroke="#3a3226" stroke-width="1.4" />
<rect x="729.7" y="1075.0" width="14.0" height="14.0" fill="#c9964b" stroke="#3a3226" stroke-width="1.4" />
<rect x="760.7" y="1051.7" width="14.0" height="14.0" fill="#c9964b" stroke="#3a3226" stroke-width="1.4" />
<rect x="791.6" y="1022.1" width="14.0" height="14.0" fill="#c9964b" stroke="#3a3226" stroke-width="1.4" />
<rect x="822.6" y="1009.3" width="14.0" height="14.0" fill="#c9964b" stroke="#3a3226" stroke-width="1.4" />
<circle cx="365.0" cy="1278.2" r="6.0" fill="#dedede" stroke="#2e2e2e" stroke-width="2.0" />
<circle cx="396.0" cy="1278.2" r="6.0" fill="#dedede" stroke="#2e2e2e" stroke-width="2.0" />
<circle cx="426.9" cy="1278.2" r="6.8" fill="#d6d6d6" stroke="#4a4a4a" stroke-width="1.8" />
<circle cx="457.9" cy="1278.2" r="6.8" fill="#d6d6d6" stroke="#4a4a4a" stroke-width="1.8" />
<circle cx="488.9" cy="1278.2" r="6.8" fill="#d6d6d6" stroke="#4a4a4a" stroke-width="1.8" />
<circle cx="519.9" cy="1278.2" r="6.8" fill="#d6d6d6" stroke="#4a4a4a" stroke-width="1.8" />
<circle cx="550.8" cy="1278.2" r="6.8" fill="#d6d6d6" stroke="#4a4a4a" stroke-width="1.8" />
<circle cx="581.8" cy="1278.2" r="6.8" fill="#d6d6d6" stroke="#4a4a4a" stroke-width="1.8" />
<circle cx="612.8" cy="1278.2" r="6.8" fill="#d6d6d6" stroke="#4a4a4a" stroke-width="1.8" />
<circle cx="643.8" cy="1278.2" r="6.8" fill="#d6d6d6" stroke="#4a4a4a" stroke-width="1.8" />
<circle cx="674.7" cy="1278.2" r="6.8" fill="#d6d6d6" stroke="#4a4a4a" stroke-width="1.8" />
<circle cx="705.7" cy="1278.2" r="6.8" fill="#d6d6d6" stroke="#4a4a4a" stroke-width="1.8" />
<circle cx="736.7" cy="1278.2" r="6.8" fill="#d6d6d6" stroke="#4a4a4a" stroke-width="1.8" />
<circle cx="767.7" cy="1278.2" r="6.8" fill="#d6d6d6" stroke="#4a4a4a" stroke-width="1.8" />
<circle cx="798.6" cy="1278.2" r="6.8" fill="#d6d6d6" stroke="#4a4a4a" stroke-width="1.8" />
<circle cx="829.6" cy="1278.2" r="6.8" fill="#d6d6d6" stroke="#4a4a4a" stroke-width="1.8" />
<text x="0" y="13.6" font-size="26.5" font-weight="bold" font-family='"DejaVu Sans", "Liberation Sans", sans-serif' text-anchor="middle" fill="#0a0a0a" stroke="#0a0a0a" stroke-width="1.9" stroke-linejoin="round" transform="translate(429.2 1247.0) scale(1.08 0.92) rotate(90)">*</text>
<text x="0" y="13.6" font-size="26.5" font-weight="bold" font-family='"DejaVu Sans", "Liberation Sans", sans-serif' text-anchor="middle" fill="#0a0a0a" stroke="#0a0a0a" stroke-width="1.9" stroke-linejoin="round" transform="translate(460.2 1240.0) scale(1.08 0.92) rotate(90)">*</text>
<text x="0" y="13.6" font-size="26.5" font-weight="bold" font-family='"DejaVu Sans", "Liberation Sans", sans-serif' text-anchor="middle" fill="#0a0a0a" stroke="#0a0a0a" stroke-width="1.9" stroke-linejoin="round" transform="translate(491.2 1232.0) scale(1.08 0.92) rotate(90)">*</text>
<text x="0" y="13.6" font-size="26.5" font-weight="bold" font-family='"DejaVu Sans", "Liberation Sans", sans-serif' text-anchor="middle" fill="#0a0a0a" stroke="#0a0a0a" stroke-width="1.9" stroke-linejoin="round" transform="translate(522.2 1223.0) scale(1.08 0.92) rotate(90)">*</text>
<text x="0" y="13.6" font-size="26.5" font-weight="bold" font-family='"DejaVu Sans", "Liberation Sans", sans-serif' text-anchor="middle" fill="#0a0a0a" stroke="#0a0a0a" stroke-width="1.9" stroke-linejoin="round" transform="translate(553.1 1218.0) scale(1.08 0.92) rotate(90)">*</text>
<text x="0" y="13.6" font-size="26.5" font-weight="bold" font-family='"DejaVu Sans", "Liberation Sans", sans-serif' text-anchor="middle" fill="#0a0a0a" stroke="#0a0a0a" stroke-width="1.9" stroke-linejoin="round" transform="translate(584.1 1198.0) scale(1.08 0.92) rotate(90)">*</text><text x="0" y="13.6" font-size="26.5" font-weight="bold" font-family='"DejaVu Sans", "Liberation Sans", sans-serif' text-anchor="middle" fill="#0a0a0a" stroke="#0a0a0a" stroke-width="1.9" stroke-linejoin="round" transform="translate(584.1 1179.6) scale(1.08 0.92) rotate(90)">*</text>
<text x="0" y="13.6" font-size="26.5" font-weight="bold" font-family='"DejaVu Sans", "Liberation Sans", sans-serif' text-anchor="middle" fill="#0a0a0a" stroke="#0a0a0a" stroke-width="1.9" stroke-linejoin="round" transform="translate(615.1 1176.0) scale(1.08 0.92) rotate(90)">*</text><text x="0" y="13.6" font-size="26.5" font-weight="bold" font-family='"DejaVu Sans", "Liberation Sans", sans-serif' text-anchor="middle" fill="#0a0a0a" stroke="#0a0a0a" stroke-width="1.9" stroke-linejoin="round" transform="translate(615.1 1157.6) scale(1.08 0.92) rotate(90)">*</text>
<text x="0" y="13.6" font-size="26.5" font-weight="bold" font-family='"DejaVu Sans", "Liberation Sans", sans-serif' text-anchor="middle" fill="#0a0a0a" stroke="#0a0a0a" stroke-width="1.9" stroke-linejoin="round" transform="translate(646.1 1139.0) scale(1.08 0.92) rotate(90)">*</text><text x="0" y="13.6" font-size="26.5" font-weight="bold" font-family='"DejaVu Sans", "Liberation Sans", sans-serif' text-anchor="middle" fill="#0a0a0a" stroke="#0a0a0a" stroke-width="1.9" stroke-linejoin="round" transform="translate(646.1 1120.6) scale(1.08 0.92) rotate(90)">*</text><text x="0" y="13.6" font-size="26.5" font-weight="bold" font-family='"DejaVu Sans", "Liberation Sans", sans-serif' text-anchor="middle" fill="#0a0a0a" stroke="#0a0a0a" stroke-width="1.9" stroke-linejoin="round" transform="translate(646.1 1102.2) scale(1.08 0.92) rotate(90)">*</text>
<text x="0" y="13.6" font-size="26.5" font-weight="bold" font-family='"DejaVu Sans", "Liberation Sans", sans-serif' text-anchor="middle" fill="#0a0a0a" stroke="#0a0a0a" stroke-width="1.9" stroke-linejoin="round" transform="translate(677.0 1101.0) scale(1.08 0.92) rotate(90)">*</text><text x="0" y="13.6" font-size="26.5" font-weight="bold" font-family='"DejaVu Sans", "Liberation Sans", sans-serif' text-anchor="middle" fill="#0a0a0a" stroke="#0a0a0a" stroke-width="1.9" stroke-linejoin="round" transform="translate(677.0 1082.6) scale(1.08 0.92) rotate(90)">*</text><text x="0" y="13.6" font-size="26.5" font-weight="bold" font-family='"DejaVu Sans", "Liberation Sans", sans-serif' text-anchor="middle" fill="#0a0a0a" stroke="#0a0a0a" stroke-width="1.9" stroke-linejoin="round" transform="translate(677.0 1064.2) scale(1.08 0.92) rotate(90)">*</text>
<text x="0" y="13.6" font-size="26.5" font-weight="bold" font-family='"DejaVu Sans", "Liberation Sans", sans-serif' text-anchor="middle" fill="#0a0a0a" stroke="#0a0a0a" stroke-width="1.9" stroke-linejoin="round" transform="translate(708.0 1076.0) scale(1.08 0.92) rotate(90)">*</text><text x="0" y="13.6" font-size="26.5" font-weight="bold" font-family='"DejaVu Sans", "Liberation Sans", sans-serif' text-anchor="middle" fill="#0a0a0a" stroke="#0a0a0a" stroke-width="1.9" stroke-linejoin="round" transform="translate(708.0 1057.6) scale(1.08 0.92) rotate(90)">*</text><text x="0" y="13.6" font-size="26.5" font-weight="bold" font-family='"DejaVu Sans", "Liberation Sans", sans-serif' text-anchor="middle" fill="#0a0a0a" stroke="#0a0a0a" stroke-width="1.9" stroke-linejoin="round" transform="translate(708.0 1039.2) scale(1.08 0.92) rotate(90)">*</text>
<text x="0" y="13.6" font-size="26.5" font-weight="bold" font-family='"DejaVu Sans", "Liberation Sans", sans-serif' text-anchor="middle" fill="#0a0a0a" stroke="#0a0a0a" stroke-width="1.9" stroke-linejoin="round" transform="translate(739.0 1048.0) scale(1.08 0.92) rotate(90)">*</text><text x="0" y="13.6" font-size="26.5" font-weight="bold" font-family='"DejaVu Sans", "Liberation Sans", sans-serif' text-anchor="middle" fill="#0a0a0a" stroke="#0a0a0a" stroke-width="1.9" stroke-linejoin="round" transform="translate(739.0 1029.6) scale(1.08 0.92) rotate(90)">*</text><text x="0" y="13.6" font-size="26.5" font-weight="bold" font-family='"DejaVu Sans", "Liberation Sans", sans-serif' text-anchor="middle" fill="#0a0a0a" stroke="#0a0a0a" stroke-width="1.9" stroke-linejoin="round" transform="translate(739.0 1011.2) scale(1.08 0.92) rotate(90)">*</text>
<text x="0" y="13.6" font-size="26.5" font-weight="bold" font-family='"DejaVu Sans", "Liberation Sans", sans-serif' text-anchor="middle" fill="#0a0a0a" stroke="#0a0a0a" stroke-width="1.9" stroke-linejoin="round" transform="translate(770.0 1023.0) scale(1.08 0.92) rotate(90)">*</text><text x="0" y="13.6" font-size="26.5" font-weight="bold" font-family='"DejaVu Sans", "Liberation Sans", sans-serif' text-anchor="middle" fill="#0a0a0a" stroke="#0a0a0a" stroke-width="1.9" stroke-linejoin="round" transform="translate(770.0 1004.6) scale(1.08 0.92) rotate(90)">*</text><text x="0" y="13.6" font-size="26.5" font-weight="bold" font-family='"DejaVu Sans", "Liberation Sans", sans-serif' text-anchor="middle" fill="#0a0a0a" stroke="#0a0a0a" stroke-width="1.9" stroke-linejoin="round" transform="translate(770.0 986.2) scale(1.08 0.92) rotate(90)">*</text>
<text x="0" y="13.6" font-size="26.5" font-weight="bold" font-family='"DejaVu Sans", "Liberation Sans", sans-serif' text-anchor="middle" fill="#0a0a0a" stroke="#0a0a0a" stroke-width="1.9" stroke-linejoin="round" transform="translate(800.9 990.0) scale(1.08 0.92) rotate(90)">*</text><text x="0" y="13.6" font-size="26.5" font-weight="bold" font-family='"DejaVu Sans", "Liberation Sans", sans-serif' text-anchor="middle" fill="#0a0a0a" stroke="#0a0a0a" stroke-width="1.9" stroke-linejoin="round" transform="translate(800.9 971.6) scale(1.08 0.92) rotate(90)">*</text><text x="0" y="13.6" font-size="26.5" font-weight="bold" font-family='"DejaVu Sans", "Liberation Sans", sans-serif' text-anchor="middle" fill="#0a0a0a" stroke="#0a0a0a" stroke-width="1.9" stroke-linejoin="round" transform="translate(800.9 953.2) scale(1.08 0.92) rotate(90)">*</text>
<text x="0" y="13.6" font-size="26.5" font-weight="bold" font-family='"DejaVu Sans", "Liberation Sans", sans-serif' text-anchor="middle" fill="#0a0a0a" stroke="#0a0a0a" stroke-width="1.9" stroke-linejoin="round" transform="translate(831.9 979.0) scale(1.08 0.92) rotate(90)">*</text><text x="0" y="13.6" font-size="26.5" font-weight="bold" font-family='"DejaVu Sans", "Liberation Sans", sans-serif' text-anchor="middle" fill="#0a0a0a" stroke="#0a0a0a" stroke-width="1.9" stroke-linejoin="round" transform="translate(831.9 960.6) scale(1.08 0.92) rotate(90)">*</text><text x="0" y="13.6" font-size="26.5" font-weight="bold" font-family='"DejaVu Sans", "Liberation Sans", sans-serif' text-anchor="middle" fill="#0a0a0a" stroke="#0a0a0a" stroke-width="1.9" stroke-linejoin="round" transform="translate(831.9 942.2) scale(1.08 0.92) rotate(90)">*</text>
<line x1="1105.0" y1="907.5" x2="1105.0" y2="1280.1" stroke="#0a0a0a" stroke-width="3" />
<line x1="1090.0" y1="1278.6" x2="1625.0" y2="1278.6" stroke="#0a0a0a" stroke-width="3" />
<line x1="1090.0" y1="1278.6" x2="1105.0" y2="1278.6" stroke="#0a0a0a" stroke-width="3" />
<text x="1086.5" y="1287.8" font-size="25.6" font-weight="bold" text-anchor="end" fill="#0a0a0a" stroke="#0a0a0a" stroke-width="0.23">0</text>
<line x1="1090.0" y1="1155.4" x2="1105.0" y2="1155.4" stroke="#0a0a0a" stroke-width="3" />
<text x="1086.5" y="1164.6" font-size="25.6" font-weight="bold" text-anchor="end" fill="#0a0a0a" stroke="#0a0a0a" stroke-width="0.23">1</text>
<line x1="1090.0" y1="1032.2" x2="1105.0" y2="1032.2" stroke="#0a0a0a" stroke-width="3" />
<text x="1086.5" y="1041.4" font-size="25.6" font-weight="bold" text-anchor="end" fill="#0a0a0a" stroke="#0a0a0a" stroke-width="0.23">2</text>
<line x1="1090.0" y1="909.0" x2="1105.0" y2="909.0" stroke="#0a0a0a" stroke-width="3" />
<text x="1086.5" y="918.2" font-size="25.6" font-weight="bold" text-anchor="end" fill="#0a0a0a" stroke="#0a0a0a" stroke-width="0.23">3</text>
<line x1="1120.2" y1="1278.6" x2="1120.2" y2="1291.6" stroke="#0a0a0a" stroke-width="3" />
<text x="0" y="0" font-size="21.5" font-weight="bold" text-anchor="middle" fill="#1a1a1a" transform="translate(1120.2 1317.5) scale(0.87 1)" stroke="#1a1a1a" stroke-width="0.20">0</text>
<line x1="1152.6" y1="1278.6" x2="1152.6" y2="1291.6" stroke="#0a0a0a" stroke-width="3" />
<text x="0" y="0" font-size="21.5" font-weight="bold" text-anchor="middle" fill="#1a1a1a" transform="translate(1152.6 1317.5) scale(0.87 1)" stroke="#1a1a1a" stroke-width="0.20">2</text>
<line x1="1185.0" y1="1278.6" x2="1185.0" y2="1291.6" stroke="#0a0a0a" stroke-width="3" />
<text x="0" y="0" font-size="21.5" font-weight="bold" text-anchor="middle" fill="#1a1a1a" transform="translate(1185.0 1317.5) scale(0.87 1)" stroke="#1a1a1a" stroke-width="0.20">4</text>
<line x1="1217.4" y1="1278.6" x2="1217.4" y2="1291.6" stroke="#0a0a0a" stroke-width="3" />
<text x="0" y="0" font-size="21.5" font-weight="bold" text-anchor="middle" fill="#1a1a1a" transform="translate(1217.4 1317.5) scale(0.87 1)" stroke="#1a1a1a" stroke-width="0.20">6</text>
<line x1="1249.9" y1="1278.6" x2="1249.9" y2="1291.6" stroke="#0a0a0a" stroke-width="3" />
<text x="0" y="0" font-size="21.5" font-weight="bold" text-anchor="middle" fill="#1a1a1a" transform="translate(1249.9 1317.5) scale(0.87 1)" stroke="#1a1a1a" stroke-width="0.20">8</text>
<line x1="1282.3" y1="1278.6" x2="1282.3" y2="1291.6" stroke="#0a0a0a" stroke-width="3" />
<text x="0" y="0" font-size="21.5" font-weight="bold" text-anchor="middle" fill="#1a1a1a" transform="translate(1282.3 1317.5) scale(0.87 1)" stroke="#1a1a1a" stroke-width="0.20">10</text>
<line x1="1314.7" y1="1278.6" x2="1314.7" y2="1291.6" stroke="#0a0a0a" stroke-width="3" />
<text x="0" y="0" font-size="21.5" font-weight="bold" text-anchor="middle" fill="#1a1a1a" transform="translate(1314.7 1317.5) scale(0.87 1)" stroke="#1a1a1a" stroke-width="0.20">12</text>
<line x1="1347.1" y1="1278.6" x2="1347.1" y2="1291.6" stroke="#0a0a0a" stroke-width="3" />
<text x="0" y="0" font-size="21.5" font-weight="bold" text-anchor="middle" fill="#1a1a1a" transform="translate(1347.1 1317.5) scale(0.87 1)" stroke="#1a1a1a" stroke-width="0.20">14</text>
<line x1="1379.5" y1="1278.6" x2="1379.5" y2="1291.6" stroke="#0a0a0a" stroke-width="3" />
<text x="0" y="0" font-size="21.5" font-weight="bold" text-anchor="middle" fill="#1a1a1a" transform="translate(1379.5 1317.5) scale(0.87 1)" stroke="#1a1a1a" stroke-width="0.20">16</text>
<line x1="1411.9" y1="1278.6" x2="1411.9" y2="1291.6" stroke="#0a0a0a" stroke-width="3" />
<text x="0" y="0" font-size="21.5" font-weight="bold" text-anchor="middle" fill="#1a1a1a" transform="translate(1411.9 1317.5) scale(0.87 1)" stroke="#1a1a1a" stroke-width="0.20">18</text>
<line x1="1444.3" y1="1278.6" x2="1444.3" y2="1291.6" stroke="#0a0a0a" stroke-width="3" />
<text x="0" y="0" font-size="21.5" font-weight="bold" text-anchor="middle" fill="#1a1a1a" transform="translate(1444.3 1317.5) scale(0.87 1)" stroke="#1a1a1a" stroke-width="0.20">20</text>
<line x1="1476.7" y1="1278.6" x2="1476.7" y2="1291.6" stroke="#0a0a0a" stroke-width="3" />
<text x="0" y="0" font-size="21.5" font-weight="bold" text-anchor="middle" fill="#1a1a1a" transform="translate(1476.7 1317.5) scale(0.87 1)" stroke="#1a1a1a" stroke-width="0.20">22</text>
<line x1="1509.2" y1="1278.6" x2="1509.2" y2="1291.6" stroke="#0a0a0a" stroke-width="3" />
<text x="0" y="0" font-size="21.5" font-weight="bold" text-anchor="middle" fill="#1a1a1a" transform="translate(1509.2 1317.5) scale(0.87 1)" stroke="#1a1a1a" stroke-width="0.20">24</text>
<line x1="1541.6" y1="1278.6" x2="1541.6" y2="1291.6" stroke="#0a0a0a" stroke-width="3" />
<text x="0" y="0" font-size="21.5" font-weight="bold" text-anchor="middle" fill="#1a1a1a" transform="translate(1541.6 1317.5) scale(0.87 1)" stroke="#1a1a1a" stroke-width="0.20">26</text>
<line x1="1574.0" y1="1278.6" x2="1574.0" y2="1291.6" stroke="#0a0a0a" stroke-width="3" />
<text x="0" y="0" font-size="21.5" font-weight="bold" text-anchor="middle" fill="#1a1a1a" transform="translate(1574.0 1317.5) scale(0.87 1)" stroke="#1a1a1a" stroke-width="0.20">28</text>
<line x1="1606.4" y1="1278.6" x2="1606.4" y2="1291.6" stroke="#0a0a0a" stroke-width="3" />
<text x="0" y="0" font-size="21.5" font-weight="bold" text-anchor="middle" fill="#1a1a1a" transform="translate(1606.4 1317.5) scale(0.87 1)" stroke="#1a1a1a" stroke-width="0.20">30</text>
<text x="1363.0" y="1378.0" font-size="30.3" font-weight="bold" text-anchor="middle" fill="#0a0a0a" stroke="#0a0a0a" stroke-width="0.27">Time (Days)</text>
<text x="1026.0" y="1094.0" font-size="30.3" font-weight="bold" text-anchor="middle" fill="#0a0a0a" transform="rotate(-90 1026.0 1094.0)" stroke="#0a0a0a" stroke-width="0.27">Ulcerated areas score</text>
<line x1="1282.3" y1="1223.2" x2="1282.3" y2="1260.1" stroke="#8a8a8a" stroke-width="2.9" />
<line x1="1274.8" y1="1223.2" x2="1289.8" y2="1223.2" stroke="#3a3a3a" stroke-width="1.7" />
<line x1="1274.8" y1="1260.1" x2="1289.8" y2="1260.1" stroke="#3a3a3a" stroke-width="1.7" />
<line x1="1314.7" y1="1093.8" x2="1314.7" y2="1167.7" stroke="#8a8a8a" stroke-width="2.9" />
<line x1="1307.2" y1="1093.8" x2="1322.2" y2="1093.8" stroke="#3a3a3a" stroke-width="1.7" />
<line x1="1307.2" y1="1167.7" x2="1322.2" y2="1167.7" stroke="#3a3a3a" stroke-width="1.7" />
<line x1="1347.1" y1="1066.7" x2="1347.1" y2="1120.9" stroke="#8a8a8a" stroke-width="2.9" />
<line x1="1339.6" y1="1066.7" x2="1354.6" y2="1066.7" stroke="#3a3a3a" stroke-width="1.7" />
<line x1="1339.6" y1="1120.9" x2="1354.6" y2="1120.9" stroke="#3a3a3a" stroke-width="1.7" />
<line x1="1379.5" y1="1061.8" x2="1379.5" y2="1101.2" stroke="#8a8a8a" stroke-width="2.9" />
<line x1="1372.0" y1="1061.8" x2="1387.0" y2="1061.8" stroke="#3a3a3a" stroke-width="1.7" />
<line x1="1372.0" y1="1101.2" x2="1387.0" y2="1101.2" stroke="#3a3a3a" stroke-width="1.7" />
<line x1="1411.9" y1="1050.7" x2="1411.9" y2="1087.6" stroke="#8a8a8a" stroke-width="2.9" />
<line x1="1404.4" y1="1050.7" x2="1419.4" y2="1050.7" stroke="#3a3a3a" stroke-width="1.7" />
<line x1="1404.4" y1="1087.6" x2="1419.4" y2="1087.6" stroke="#3a3a3a" stroke-width="1.7" />
<line x1="1444.3" y1="1040.8" x2="1444.3" y2="1072.9" stroke="#8a8a8a" stroke-width="2.9" />
<line x1="1436.8" y1="1040.8" x2="1451.8" y2="1040.8" stroke="#3a3a3a" stroke-width="1.7" />
<line x1="1436.8" y1="1072.9" x2="1451.8" y2="1072.9" stroke="#3a3a3a" stroke-width="1.7" />
<line x1="1476.7" y1="1013.7" x2="1476.7" y2="1050.7" stroke="#8a8a8a" stroke-width="2.9" />
<line x1="1469.2" y1="1013.7" x2="1484.2" y2="1013.7" stroke="#3a3a3a" stroke-width="1.7" />
<line x1="1469.2" y1="1050.7" x2="1484.2" y2="1050.7" stroke="#3a3a3a" stroke-width="1.7" />
<line x1="1509.2" y1="998.9" x2="1509.2" y2="1040.8" stroke="#8a8a8a" stroke-width="2.9" />
<line x1="1501.7" y1="998.9" x2="1516.7" y2="998.9" stroke="#3a3a3a" stroke-width="1.7" />
<line x1="1501.7" y1="1040.8" x2="1516.7" y2="1040.8" stroke="#3a3a3a" stroke-width="1.7" />
<line x1="1541.6" y1="998.9" x2="1541.6" y2="1040.8" stroke="#8a8a8a" stroke-width="2.9" />
<line x1="1534.1" y1="998.9" x2="1549.1" y2="998.9" stroke="#3a3a3a" stroke-width="1.7" />
<line x1="1534.1" y1="1040.8" x2="1549.1" y2="1040.8" stroke="#3a3a3a" stroke-width="1.7" />
<line x1="1574.0" y1="968.1" x2="1574.0" y2="1022.3" stroke="#8a8a8a" stroke-width="2.9" />
<line x1="1566.5" y1="968.1" x2="1581.5" y2="968.1" stroke="#3a3a3a" stroke-width="1.7" />
<line x1="1566.5" y1="1022.3" x2="1581.5" y2="1022.3" stroke="#3a3a3a" stroke-width="1.7" />
<line x1="1606.4" y1="943.5" x2="1606.4" y2="997.7" stroke="#8a8a8a" stroke-width="2.9" />
<line x1="1598.9" y1="943.5" x2="1613.9" y2="943.5" stroke="#3a3a3a" stroke-width="1.7" />
<line x1="1598.9" y1="997.7" x2="1613.9" y2="997.7" stroke="#3a3a3a" stroke-width="1.7" />
<polyline points="1120.2,1278.6 1152.6,1278.6 1185.0,1278.6 1217.4,1278.6 1249.9,1278.6 1282.3,1241.6 1314.7,1130.8 1347.1,1093.8 1379.5,1081.5 1411.9,1069.2 1444.3,1056.8 1476.7,1032.2 1509.2,1019.9 1541.6,1019.9 1574.0,995.2 1606.4,970.6" fill="none" stroke="#1a1a1a" stroke-width="1.5"/>
<rect x="1113.5" y="1271.9" width="13.4" height="13.4" fill="#4a3c28" stroke="#2a2a2a" stroke-width="1.6" rx="3.6"/>
<rect x="1145.9" y="1271.9" width="13.4" height="13.4" fill="#4a3c28" stroke="#2a2a2a" stroke-width="1.6" rx="3.6"/>
<rect x="1178.3" y="1271.9" width="13.4" height="13.4" fill="#4a3c28" stroke="#2a2a2a" stroke-width="1.6" rx="3.6"/>
<rect x="1210.7" y="1271.9" width="13.4" height="13.4" fill="#4a3c28" stroke="#2a2a2a" stroke-width="1.6" rx="3.6"/>
<rect x="1243.2" y="1271.9" width="13.4" height="13.4" fill="#4a3c28" stroke="#2a2a2a" stroke-width="1.6" rx="3.6"/>
<rect x="1275.3" y="1234.6" width="14.0" height="14.0" fill="#c9964b" stroke="#3a3226" stroke-width="1.4" />
<rect x="1307.7" y="1123.8" width="14.0" height="14.0" fill="#c9964b" stroke="#3a3226" stroke-width="1.4" />
<rect x="1340.1" y="1086.8" width="14.0" height="14.0" fill="#c9964b" stroke="#3a3226" stroke-width="1.4" />
<rect x="1372.5" y="1074.5" width="14.0" height="14.0" fill="#c9964b" stroke="#3a3226" stroke-width="1.4" />
<rect x="1404.9" y="1062.2" width="14.0" height="14.0" fill="#c9964b" stroke="#3a3226" stroke-width="1.4" />
<rect x="1437.3" y="1049.8" width="14.0" height="14.0" fill="#c9964b" stroke="#3a3226" stroke-width="1.4" />
<rect x="1469.7" y="1025.2" width="14.0" height="14.0" fill="#c9964b" stroke="#3a3226" stroke-width="1.4" />
<rect x="1502.2" y="1012.9" width="14.0" height="14.0" fill="#c9964b" stroke="#3a3226" stroke-width="1.4" />
<rect x="1534.6" y="1012.9" width="14.0" height="14.0" fill="#c9964b" stroke="#3a3226" stroke-width="1.4" />
<rect x="1567.0" y="988.2" width="14.0" height="14.0" fill="#c9964b" stroke="#3a3226" stroke-width="1.4" />
<rect x="1599.4" y="963.6" width="14.0" height="14.0" fill="#c9964b" stroke="#3a3226" stroke-width="1.4" />
<circle cx="1120.2" cy="1278.6" r="6.0" fill="#dedede" stroke="#2e2e2e" stroke-width="2.0" />
<circle cx="1152.6" cy="1278.6" r="6.0" fill="#dedede" stroke="#2e2e2e" stroke-width="2.0" />
<circle cx="1185.0" cy="1278.6" r="6.0" fill="#dedede" stroke="#2e2e2e" stroke-width="2.0" />
<circle cx="1217.4" cy="1278.6" r="6.0" fill="#dedede" stroke="#2e2e2e" stroke-width="2.0" />
<circle cx="1249.9" cy="1278.6" r="6.0" fill="#dedede" stroke="#2e2e2e" stroke-width="2.0" />
<circle cx="1282.3" cy="1278.6" r="6.8" fill="#d6d6d6" stroke="#4a4a4a" stroke-width="1.8" />
<circle cx="1314.7" cy="1278.6" r="6.8" fill="#d6d6d6" stroke="#4a4a4a" stroke-width="1.8" />
<circle cx="1347.1" cy="1278.6" r="6.8" fill="#d6d6d6" stroke="#4a4a4a" stroke-width="1.8" />
<circle cx="1379.5" cy="1278.6" r="6.8" fill="#d6d6d6" stroke="#4a4a4a" stroke-width="1.8" />
<circle cx="1411.9" cy="1278.6" r="6.8" fill="#d6d6d6" stroke="#4a4a4a" stroke-width="1.8" />
<circle cx="1444.3" cy="1278.6" r="6.8" fill="#d6d6d6" stroke="#4a4a4a" stroke-width="1.8" />
<circle cx="1476.7" cy="1278.6" r="6.8" fill="#d6d6d6" stroke="#4a4a4a" stroke-width="1.8" />
<circle cx="1509.2" cy="1278.6" r="6.8" fill="#d6d6d6" stroke="#4a4a4a" stroke-width="1.8" />
<circle cx="1541.6" cy="1278.6" r="6.8" fill="#d6d6d6" stroke="#4a4a4a" stroke-width="1.8" />
<circle cx="1574.0" cy="1278.6" r="6.8" fill="#d6d6d6" stroke="#4a4a4a" stroke-width="1.8" />
<circle cx="1606.4" cy="1278.6" r="6.8" fill="#d6d6d6" stroke="#4a4a4a" stroke-width="1.8" />
<text x="0" y="13.6" font-size="26.5" font-weight="bold" font-family='"DejaVu Sans", "Liberation Sans", sans-serif' text-anchor="middle" fill="#0a0a0a" stroke="#0a0a0a" stroke-width="1.9" stroke-linejoin="round" transform="translate(1316.5 1078.5) scale(1.08 0.92) rotate(90)">*</text>
<text x="0" y="13.6" font-size="26.5" font-weight="bold" font-family='"DejaVu Sans", "Liberation Sans", sans-serif' text-anchor="middle" fill="#0a0a0a" stroke="#0a0a0a" stroke-width="1.9" stroke-linejoin="round" transform="translate(1348.9 1049.5) scale(1.08 0.92) rotate(90)">*</text>
<text x="0" y="13.6" font-size="26.5" font-weight="bold" font-family='"DejaVu Sans", "Liberation Sans", sans-serif' text-anchor="middle" fill="#0a0a0a" stroke="#0a0a0a" stroke-width="1.9" stroke-linejoin="round" transform="translate(1381.3 1045.5) scale(1.08 0.92) rotate(90)">*</text>
<text x="0" y="13.6" font-size="26.5" font-weight="bold" font-family='"DejaVu Sans", "Liberation Sans", sans-serif' text-anchor="middle" fill="#0a0a0a" stroke="#0a0a0a" stroke-width="1.9" stroke-linejoin="round" transform="translate(1413.7 1034.0) scale(1.08 0.92) rotate(90)">*</text>
<text x="0" y="13.6" font-size="26.5" font-weight="bold" font-family='"DejaVu Sans", "Liberation Sans", sans-serif' text-anchor="middle" fill="#0a0a0a" stroke="#0a0a0a" stroke-width="1.9" stroke-linejoin="round" transform="translate(1446.1 1028.0) scale(1.08 0.92) rotate(90)">*</text><text x="0" y="13.6" font-size="26.5" font-weight="bold" font-family='"DejaVu Sans", "Liberation Sans", sans-serif' text-anchor="middle" fill="#0a0a0a" stroke="#0a0a0a" stroke-width="1.9" stroke-linejoin="round" transform="translate(1446.1 1009.1) scale(1.08 0.92) rotate(90)">*</text>
<text x="0" y="13.6" font-size="26.5" font-weight="bold" font-family='"DejaVu Sans", "Liberation Sans", sans-serif' text-anchor="middle" fill="#0a0a0a" stroke="#0a0a0a" stroke-width="1.9" stroke-linejoin="round" transform="translate(1478.5 1004.4) scale(1.08 0.92) rotate(90)">*</text><text x="0" y="13.6" font-size="26.5" font-weight="bold" font-family='"DejaVu Sans", "Liberation Sans", sans-serif' text-anchor="middle" fill="#0a0a0a" stroke="#0a0a0a" stroke-width="1.9" stroke-linejoin="round" transform="translate(1478.5 985.5) scale(1.08 0.92) rotate(90)">*</text>
<text x="0" y="13.6" font-size="26.5" font-weight="bold" font-family='"DejaVu Sans", "Liberation Sans", sans-serif' text-anchor="middle" fill="#0a0a0a" stroke="#0a0a0a" stroke-width="1.9" stroke-linejoin="round" transform="translate(1511.0 986.5) scale(1.08 0.92) rotate(90)">*</text><text x="0" y="13.6" font-size="26.5" font-weight="bold" font-family='"DejaVu Sans", "Liberation Sans", sans-serif' text-anchor="middle" fill="#0a0a0a" stroke="#0a0a0a" stroke-width="1.9" stroke-linejoin="round" transform="translate(1511.0 967.6) scale(1.08 0.92) rotate(90)">*</text><text x="0" y="13.6" font-size="26.5" font-weight="bold" font-family='"DejaVu Sans", "Liberation Sans", sans-serif' text-anchor="middle" fill="#0a0a0a" stroke="#0a0a0a" stroke-width="1.9" stroke-linejoin="round" transform="translate(1511.0 948.7) scale(1.08 0.92) rotate(90)">*</text>
<text x="0" y="13.6" font-size="26.5" font-weight="bold" font-family='"DejaVu Sans", "Liberation Sans", sans-serif' text-anchor="middle" fill="#0a0a0a" stroke="#0a0a0a" stroke-width="1.9" stroke-linejoin="round" transform="translate(1543.4 986.5) scale(1.08 0.92) rotate(90)">*</text><text x="0" y="13.6" font-size="26.5" font-weight="bold" font-family='"DejaVu Sans", "Liberation Sans", sans-serif' text-anchor="middle" fill="#0a0a0a" stroke="#0a0a0a" stroke-width="1.9" stroke-linejoin="round" transform="translate(1543.4 967.6) scale(1.08 0.92) rotate(90)">*</text><text x="0" y="13.6" font-size="26.5" font-weight="bold" font-family='"DejaVu Sans", "Liberation Sans", sans-serif' text-anchor="middle" fill="#0a0a0a" stroke="#0a0a0a" stroke-width="1.9" stroke-linejoin="round" transform="translate(1543.4 948.7) scale(1.08 0.92) rotate(90)">*</text>
<text x="0" y="13.6" font-size="26.5" font-weight="bold" font-family='"DejaVu Sans", "Liberation Sans", sans-serif' text-anchor="middle" fill="#0a0a0a" stroke="#0a0a0a" stroke-width="1.9" stroke-linejoin="round" transform="translate(1575.8 958.4) scale(1.08 0.92) rotate(90)">*</text><text x="0" y="13.6" font-size="26.5" font-weight="bold" font-family='"DejaVu Sans", "Liberation Sans", sans-serif' text-anchor="middle" fill="#0a0a0a" stroke="#0a0a0a" stroke-width="1.9" stroke-linejoin="round" transform="translate(1575.8 939.5) scale(1.08 0.92) rotate(90)">*</text><text x="0" y="13.6" font-size="26.5" font-weight="bold" font-family='"DejaVu Sans", "Liberation Sans", sans-serif' text-anchor="middle" fill="#0a0a0a" stroke="#0a0a0a" stroke-width="1.9" stroke-linejoin="round" transform="translate(1575.8 920.6) scale(1.08 0.92) rotate(90)">*</text>
<text x="0" y="13.6" font-size="26.5" font-weight="bold" font-family='"DejaVu Sans", "Liberation Sans", sans-serif' text-anchor="middle" fill="#0a0a0a" stroke="#0a0a0a" stroke-width="1.9" stroke-linejoin="round" transform="translate(1608.2 933.6) scale(1.08 0.92) rotate(90)">*</text><text x="0" y="13.6" font-size="26.5" font-weight="bold" font-family='"DejaVu Sans", "Liberation Sans", sans-serif' text-anchor="middle" fill="#0a0a0a" stroke="#0a0a0a" stroke-width="1.9" stroke-linejoin="round" transform="translate(1608.2 914.7) scale(1.08 0.92) rotate(90)">*</text><text x="0" y="13.6" font-size="26.5" font-weight="bold" font-family='"DejaVu Sans", "Liberation Sans", sans-serif' text-anchor="middle" fill="#0a0a0a" stroke="#0a0a0a" stroke-width="1.9" stroke-linejoin="round" transform="translate(1608.2 895.8) scale(1.08 0.92) rotate(90)">*</text>
<line x1="1710.8" y1="425.2" x2="1757.5" y2="425.2" stroke="#cfcfcf" stroke-width="3.6" />
<circle cx="1733.8" cy="425.2" r="8.2" fill="#d6d6d6" stroke="#404040" stroke-width="2.3" />
<text x="1782.6" y="441.7" font-size="42.5" font-weight="bold" text-anchor="start" fill="#0a0a0a" textLength="148.5" lengthAdjust="spacingAndGlyphs" stroke="none">Control</text>
<line x1="1714.4" y1="519.2" x2="1761.0" y2="519.2" stroke="#d8a251" stroke-width="3.2" />
<rect x="1729.6" y="510.7" width="17.0" height="17.0" fill="#c9964b" stroke="#5e5444" stroke-width="2.0" />
<text x="1786.2" y="535.7" font-size="42.5" font-weight="bold" text-anchor="start" fill="#0a0a0a" textLength="68.0" lengthAdjust="spacingAndGlyphs" stroke="none">4T1</text>
</g>
<g id="panel_c">
<defs>
<filter id="b2" x="-30%" y="-30%" width="160%" height="160%"><feGaussianBlur stdDeviation="2"/></filter>
<filter id="b3" x="-30%" y="-30%" width="160%" height="160%"><feGaussianBlur stdDeviation="3.2"/></filter>
<filter id="b6" x="-40%" y="-40%" width="180%" height="180%"><feGaussianBlur stdDeviation="6"/></filter>
<filter id="b14" x="-60%" y="-60%" width="220%" height="220%"><feGaussianBlur stdDeviation="14"/></filter>
<filter id="bluef" color-interpolation-filters="sRGB" x="-40%" y="-40%" width="180%" height="180%">
  <feTurbulence type="fractalNoise" baseFrequency="0.12" numOctaves="2" seed="5" result="n"/>
  <feDisplacementMap in="SourceGraphic" in2="n" scale="16" xChannelSelector="R" yChannelSelector="G"/>
  <feGaussianBlur stdDeviation="3.6"/>
</filter>
<filter id="rough" color-interpolation-filters="sRGB" x="-30%" y="-30%" width="160%" height="160%">
  <feTurbulence type="fractalNoise" baseFrequency="0.16" numOctaves="2" seed="7" result="n"/>
  <feDisplacementMap in="SourceGraphic" in2="n" scale="9" xChannelSelector="R" yChannelSelector="G"/>
  <feGaussianBlur stdDeviation="1.1"/>
</filter>
<filter id="rough2" color-interpolation-filters="sRGB" x="-30%" y="-30%" width="160%" height="160%">
  <feTurbulence type="fractalNoise" baseFrequency="0.2" numOctaves="2" seed="3" result="n"/>
  <feDisplacementMap in="SourceGraphic" in2="n" scale="7" xChannelSelector="R" yChannelSelector="G"/>
  <feGaussianBlur stdDeviation="0.9"/>
</filter>
<filter id="speck" x="0" y="0" width="100%" height="100%">
  <feTurbulence type="fractalNoise" baseFrequency="0.33" numOctaves="1" seed="11"/>
  <feColorMatrix type="matrix" values="0 0 0 0 0.24  0 0 0 0 0.05  0 0 0 0 0.66  3.4 3.4 0 0 -4.0"/>
  <feGaussianBlur stdDeviation="1.0"/>
</filter>
<radialGradient id="halo"><stop offset="0" stop-color="#3a12a8" stop-opacity=".75"/><stop offset=".55" stop-color="#2a0a70" stop-opacity=".35"/><stop offset="1" stop-color="#1a0640" stop-opacity="0"/></radialGradient>
<linearGradient id="cbar" x1="0" y1="0" x2="0" y2="1">
<stop offset="0" stop-color="#fff4fa"/><stop offset=".07" stop-color="#ffd2ec"/><stop offset=".115" stop-color="#ff9cc0"/>
<stop offset=".135" stop-color="#ff3048"/><stop offset=".165" stop-color="#ff0000"/><stop offset=".25" stop-color="#ff2400"/>
<stop offset=".35" stop-color="#ff7a00"/><stop offset=".45" stop-color="#ffe600"/><stop offset=".53" stop-color="#b4e800"/>
<stop offset=".61" stop-color="#1ee000"/><stop offset=".72" stop-color="#009a18"/><stop offset=".80" stop-color="#00506a"/>
<stop offset=".87" stop-color="#0008f0"/><stop offset=".94" stop-color="#0000e0"/><stop offset="1" stop-color="#00007a"/>
</linearGradient>
<linearGradient id="rim" x1="0" y1="0" x2="1" y2="1">
<stop offset="0" stop-color="#c8c8c8"/><stop offset=".5" stop-color="#f4dede"/><stop offset=".8" stop-color="#ffb060"/><stop offset="1" stop-color="#60e040"/>
</linearGradient>
</defs>
<text x="2.2" y="1363.0" font-size="56.5" font-weight="normal" text-anchor="start" fill="#0a0a0a" stroke="#0a0a0a" stroke-width="2.9" stroke-linejoin="round">C</text>
<clipPath id="cp1"><rect x="88.7" y="1400.6" width="439.1" height="424.7"/></clipPath>
<rect x="88.7" y="1400.6" width="439.1" height="424.7" fill="#07020e" stroke="#4a4a55" stroke-width="1.6" />
<g clip-path="url(#cp1)">
<rect x="88.7" y="1400.6" width="439.1" height="424.7" filter="url(#speck)" opacity="0.22"/>
<ellipse cx="350" cy="1640" rx="62" ry="100" fill="url(#halo)" opacity=".75"/>
<g filter="url(#bluef)"><ellipse cx="331.0" cy="1660.0" rx="22.0" ry="30.0" fill="#0a0ce8" opacity="0.95"/><ellipse cx="372.0" cy="1642.0" rx="20.0" ry="24.0" fill="#0a0ce8" opacity="0.95"/><ellipse cx="352.0" cy="1624.0" rx="20.0" ry="12.0" fill="#0a0ce8" opacity="0.7"/><ellipse cx="360.0" cy="1690.0" rx="28.0" ry="30.0" fill="#0a0ce8" opacity="0.95"/><ellipse cx="360.0" cy="1722.0" rx="18.0" ry="12.0" fill="#0a0ce8" opacity="0.8"/><ellipse cx="350.0" cy="1595.0" rx="6.0" ry="5.0" fill="#0a0ce8" opacity="0.5"/></g>
<g filter="url(#rough)"><ellipse cx="329.0" cy="1657.5" rx="21.5" ry="21.5" fill="#1fdc1f" opacity="1"/><ellipse cx="377.8" cy="1636.4" rx="10.9" ry="12.3" fill="#1fdc1f" opacity="1"/><ellipse cx="330.0" cy="1659.0" rx="13.7" ry="15.9" fill="#f4f000" opacity="1" transform="rotate(-15 330.0 1659.0)"/><ellipse cx="338.0" cy="1650.0" rx="6.4" ry="6.2" fill="#f4f000" opacity="1"/><ellipse cx="327.0" cy="1656.0" rx="3.7" ry="12.7" fill="#ff8a10" opacity="1" transform="rotate(8 327.0 1656.0)"/></g>
<g filter="url(#rough2)"><ellipse cx="347.0" cy="1687.5" rx="24.0" ry="24.5" fill="none" stroke="#1fdc1f" stroke-width="3.6"/><path d="M352.8 1665.8 A22.4 22.4 0 1 1 335.8 1706.9" fill="none" stroke="#ffc028" stroke-width="2.6" stroke-linecap="round"/><path d="M355.3 1669.8 A19.6 19.6 0 0 1 343.6 1706.8" fill="none" stroke="#ffe4e4" stroke-width="3.0" stroke-linecap="round"/><ellipse cx="347.0" cy="1687.5" rx="17.5" ry="18.0" fill="#000" stroke="#b9b9b9" stroke-width="2.0"/></g><ellipse cx="347.0" cy="1687.5" rx="16.3" ry="16.8" fill="#000"/>
<line x1="410.1" y1="1583.8" x2="391.5" y2="1604.4" stroke="#ee0a0a" stroke-width="3.2" /><polygon points="383.4,1613.3 387.7,1601.0 395.2,1607.8" fill="#ee0a0a"/>
<line x1="271.8" y1="1619.8" x2="294.5" y2="1632.4" stroke="#ee0a0a" stroke-width="3.2" /><polygon points="305.0,1638.2 292.1,1636.8 296.9,1628.0" fill="#ee0a0a"/>
<line x1="299.5" y1="1743.3" x2="327.4" y2="1718.9" stroke="#ecdc00" stroke-width="3.2" /><polygon points="336.4,1711.0 330.7,1722.7 324.1,1715.1" fill="#ecdc00"/>
</g>
<line x1="109.0" y1="1453.0" x2="109.0" y2="1783.5" stroke="#8486b8" stroke-width="3.4" />
<line x1="103.0" y1="1453.0" x2="115.0" y2="1453.0" stroke="#8486b8" stroke-width="2.8" />
<line x1="103.0" y1="1783.5" x2="115.0" y2="1783.5" stroke="#8486b8" stroke-width="2.8" />
<text x="114.4" y="1445.0" font-size="25.4" font-weight="bold" text-anchor="start" fill="#9a9ade" stroke="#9a9ade" stroke-width="0.23">10 cm</text>
<text x="114.4" y="1809.5" font-size="25.4" font-weight="bold" text-anchor="start" fill="#9a9ade" stroke="#9a9ade" stroke-width="0.23">0 cm</text>
<text x="125.0" y="1497.3" font-size="32" font-weight="bold" text-anchor="start" fill="#f4f4f4" stroke="#f4f4f4" stroke-width="0.29">Control</text>
<clipPath id="cp2"><rect x="538.7" y="1402.0" width="441.3" height="423.9"/></clipPath>
<rect x="538.7" y="1402.0" width="441.3" height="423.9" fill="#07020e" stroke="#4a4a55" stroke-width="1.6" />
<g clip-path="url(#cp2)">
<rect x="538.7" y="1402.0" width="441.3" height="423.9" filter="url(#speck)" opacity="0.4"/>
<ellipse cx="818" cy="1585" rx="64" ry="108" fill="url(#halo)" opacity=".8"/>
<g filter="url(#bluef)"><ellipse cx="823.0" cy="1655.0" rx="30.0" ry="40.0" fill="#0a0ce8" opacity="0.95"/><ellipse cx="818.0" cy="1600.0" rx="22.0" ry="13.0" fill="#0a0ce8" opacity="0.7"/><ellipse cx="790.0" cy="1676.0" rx="16.0" ry="16.0" fill="#0a0ce8" opacity="0.6"/><ellipse cx="826.0" cy="1692.0" rx="18.0" ry="12.0" fill="#0a0ce8" opacity="0.8"/></g>
<g filter="url(#rough)"><ellipse cx="812.0" cy="1652.5" rx="16.7" ry="33.0" fill="#1fdc1f" opacity="1"/><ellipse cx="840.4" cy="1629.7" rx="11.8" ry="16.9" fill="#1fdc1f" opacity="1"/><ellipse cx="811.0" cy="1656.0" rx="10.3" ry="20.2" fill="#f4f000" opacity="1"/><ellipse cx="842.0" cy="1626.0" rx="4.8" ry="5.1" fill="#f4f000" opacity="1"/><ellipse cx="809.3" cy="1653.8" rx="5.5" ry="8.4" fill="#ff2a10" opacity="1"/><ellipse cx="812.0" cy="1640.0" rx="3.3" ry="4.0" fill="#ff8a10" opacity="1"/></g>
<ellipse cx="816.0" cy="1595.5" rx="39.6" ry="22.8" fill="none" stroke="#c4652a" stroke-width="2.8"/>
<ellipse cx="765.9" cy="1684.8" rx="38.3" ry="37.4" fill="none" stroke="#e00a0a" stroke-width="3.4"/>
<ellipse cx="890.7" cy="1684.8" rx="38.3" ry="37.4" fill="none" stroke="#d8cc08" stroke-width="3.4"/>
</g>
<line x1="559.0" y1="1454.4" x2="559.0" y2="1786.0" stroke="#8486b8" stroke-width="3.4" />
<line x1="553.0" y1="1454.4" x2="565.0" y2="1454.4" stroke="#8486b8" stroke-width="2.8" />
<line x1="553.0" y1="1786.0" x2="565.0" y2="1786.0" stroke="#8486b8" stroke-width="2.8" />
<text x="564.4" y="1446.4" font-size="25.4" font-weight="bold" text-anchor="start" fill="#9a9ade" stroke="#9a9ade" stroke-width="0.23">10 cm</text>
<text x="564.4" y="1811.3" font-size="25.4" font-weight="bold" text-anchor="start" fill="#9a9ade" stroke="#9a9ade" stroke-width="0.23">0 cm</text>
<text x="585.6" y="1492.8" font-size="27.6" font-weight="bold" text-anchor="start" fill="#f4f4f4" stroke="#f4f4f4" stroke-width="0.25">4T1</text>
<text x="585.6" y="1526.4" font-size="27.6" font-weight="bold" text-anchor="start" fill="#f4f4f4" stroke="#f4f4f4" stroke-width="0.25">14 days</text>
<clipPath id="cp3"><rect x="991.9" y="1402.0" width="440.7" height="424.0"/></clipPath>
<rect x="991.9" y="1402.0" width="440.7" height="424.0" fill="#07020e" stroke="#4a4a55" stroke-width="1.6" />
<g clip-path="url(#cp3)">
<rect x="991.9" y="1402.0" width="440.7" height="424.0" filter="url(#speck)" opacity="0.4"/>
<ellipse cx="1275" cy="1590" rx="64" ry="112" fill="url(#halo)" opacity=".8"/>
<g filter="url(#bluef)"><ellipse cx="1277.0" cy="1665.0" rx="33.0" ry="44.0" fill="#0a0ce8" opacity="0.95"/><ellipse cx="1271.0" cy="1606.0" rx="24.0" ry="13.0" fill="#0a0ce8" opacity="0.8"/><ellipse cx="1228.0" cy="1684.0" rx="18.0" ry="14.0" fill="#0a0ce8" opacity="0.6"/><ellipse cx="1273.0" cy="1722.0" rx="12.0" ry="16.0" fill="#0a0ce8" opacity="0.8"/></g>
<g filter="url(#rough)"><ellipse cx="1266.5" cy="1647.0" rx="19.1" ry="15.8" fill="#1fdc1f" opacity="1"/><ellipse cx="1294.0" cy="1641.0" rx="11.8" ry="20.3" fill="#1fdc1f" opacity="1" transform="rotate(25 1294.0 1641.0)"/><ellipse cx="1291.3" cy="1669.0" rx="14.2" ry="15.8" fill="#1fdc1f" opacity="1"/><ellipse cx="1282.0" cy="1655.0" rx="11.8" ry="10.0" fill="#1fdc1f" opacity="1"/><ellipse cx="1266.5" cy="1647.0" rx="12.0" ry="9.4" fill="#f4f000" opacity="1"/><ellipse cx="1294.0" cy="1642.0" rx="6.4" ry="14.8" fill="#f4f000" opacity="1" transform="rotate(25 1294.0 1642.0)"/><ellipse cx="1291.0" cy="1669.0" rx="9.2" ry="11.1" fill="#f4f000" opacity="1"/><ellipse cx="1284.0" cy="1657.0" rx="6.4" ry="6.2" fill="#f4f000" opacity="1"/><ellipse cx="1268.0" cy="1650.0" rx="7.0" ry="4.3" fill="#ff2a10" opacity="1" transform="rotate(15 1268.0 1650.0)"/><ellipse cx="1291.3" cy="1670.0" rx="5.8" ry="5.1" fill="#ff2a10" opacity="1"/><ellipse cx="1296.0" cy="1641.0" rx="3.5" ry="7.3" fill="#ff8a10" opacity="1" transform="rotate(25 1296.0 1641.0)"/><ellipse cx="1286.0" cy="1659.0" rx="3.5" ry="6.2" fill="#ff8a10" opacity="1" transform="rotate(-30 1286.0 1659.0)"/></g>
<g filter="url(#rough2)"><ellipse cx="1263.0" cy="1692.0" rx="18.0" ry="15.5" fill="none" stroke="#1fdc1f" stroke-width="3.6"/><path d="M1275.9 1684.5 A14.9 14.9 0 0 1 1257.9 1706.0" fill="none" stroke="#ffc028" stroke-width="2.6" stroke-linecap="round"/><path d="M1275.3 1687.5 A13.1 13.1 0 0 1 1263.0 1705.0" fill="none" stroke="#ffe4e4" stroke-width="3.0" stroke-linecap="round"/><ellipse cx="1263.0" cy="1692.0" rx="12.5" ry="10.0" fill="#000" stroke="#a4a4a4" stroke-width="1.8"/></g><ellipse cx="1263.0" cy="1692.0" rx="11.3" ry="8.8" fill="#000"/>
<ellipse cx="1273.4" cy="1603.5" rx="39.4" ry="22.1" fill="none" stroke="#c4652a" stroke-width="2.8"/>
<ellipse cx="1207.7" cy="1686.1" rx="36.8" ry="36.3" fill="none" stroke="#e00a0a" stroke-width="3.4"/>
<ellipse cx="1351.5" cy="1687.5" rx="38.0" ry="37.0" fill="none" stroke="#d8cc08" stroke-width="3.4"/>
</g>
<line x1="1011.8" y1="1454.4" x2="1011.8" y2="1786.7" stroke="#8486b8" stroke-width="3.4" />
<line x1="1005.8" y1="1454.4" x2="1017.8" y2="1454.4" stroke="#8486b8" stroke-width="2.8" />
<line x1="1005.8" y1="1786.7" x2="1017.8" y2="1786.7" stroke="#8486b8" stroke-width="2.8" />
<text x="1017.9" y="1446.4" font-size="25.4" font-weight="bold" text-anchor="start" fill="#9a9ade" stroke="#9a9ade" stroke-width="0.23">10 cm</text>
<text x="1017.9" y="1811.3" font-size="25.4" font-weight="bold" text-anchor="start" fill="#9a9ade" stroke="#9a9ade" stroke-width="0.23">0 cm</text>
<text x="1041.0" y="1496.8" font-size="27.6" font-weight="bold" text-anchor="start" fill="#f4f4f4" stroke="#f4f4f4" stroke-width="0.25">4T1</text>
<text x="1041.0" y="1530.4" font-size="27.6" font-weight="bold" text-anchor="start" fill="#f4f4f4" stroke="#f4f4f4" stroke-width="0.25">21 days</text>
<clipPath id="cp4"><rect x="1444.0" y="1401.0" width="402.8" height="425.0"/></clipPath>
<rect x="1444.0" y="1401.0" width="402.8" height="425.0" fill="#07020e" stroke="#4a4a55" stroke-width="1.6" />
<g clip-path="url(#cp4)">
<rect x="1444.0" y="1401.0" width="402.8" height="425.0" filter="url(#speck)" opacity="0.32"/>
<ellipse cx="1690" cy="1585" rx="62" ry="112" fill="url(#halo)" opacity=".8"/>
<g filter="url(#bluef)"><ellipse cx="1700.0" cy="1664.0" rx="40.0" ry="42.0" fill="#0a0ce8" opacity="0.95"/><ellipse cx="1687.0" cy="1600.0" rx="25.0" ry="14.0" fill="#0a0ce8" opacity="0.9"/><ellipse cx="1650.0" cy="1678.0" rx="22.0" ry="25.0" fill="#0a0ce8" opacity="0.8"/><ellipse cx="1708.0" cy="1712.0" rx="28.0" ry="12.0" fill="#0a0ce8" opacity="0.7"/></g>
<g filter="url(#rough)"><ellipse cx="1681.0" cy="1643.0" rx="11.8" ry="26.1" fill="#1fdc1f" opacity="1" transform="rotate(5 1681.0 1643.0)"/><ellipse cx="1709.0" cy="1634.0" rx="11.8" ry="20.3" fill="#1fdc1f" opacity="1" transform="rotate(5 1709.0 1634.0)"/><ellipse cx="1680.0" cy="1668.0" rx="19.1" ry="20.3" fill="#1fdc1f" opacity="1"/><ellipse cx="1696.0" cy="1652.0" rx="13.0" ry="7.7" fill="#1fdc1f" opacity="1" transform="rotate(-20 1696.0 1652.0)"/><ellipse cx="1681.0" cy="1644.0" rx="7.0" ry="19.2" fill="#f4f000" opacity="1" transform="rotate(5 1681.0 1644.0)"/><ellipse cx="1709.0" cy="1634.0" rx="6.4" ry="13.8" fill="#f4f000" opacity="1" transform="rotate(5 1709.0 1634.0)"/><ellipse cx="1680.0" cy="1668.0" rx="12.0" ry="13.8" fill="#f4f000" opacity="1"/><ellipse cx="1696.0" cy="1652.0" rx="8.6" ry="4.0" fill="#f4f000" opacity="1" transform="rotate(-20 1696.0 1652.0)"/><ellipse cx="1681.2" cy="1670.6" rx="7.5" ry="6.7" fill="#ff2a10" opacity="1"/><ellipse cx="1690.0" cy="1657.0" rx="6.4" ry="3.4" fill="#ff8a10" opacity="1" transform="rotate(-30 1690.0 1657.0)"/><ellipse cx="1683.0" cy="1632.0" rx="2.8" ry="5.1" fill="#ff8a10" opacity="1"/></g>
<g filter="url(#rough2)"><ellipse cx="1712.4" cy="1676.1" rx="27.0" ry="27.5" fill="none" stroke="#1fdc1f" stroke-width="3.6"/><path d="M1725.1 1654.1 A25.4 25.4 0 1 1 1688.5 1667.4" fill="none" stroke="#ffc028" stroke-width="2.6" stroke-linecap="round"/><path d="M1726.6 1659.2 A22.1 22.1 0 1 1 1690.4 1676.1" fill="none" stroke="#ffe4e4" stroke-width="3.0" stroke-linecap="round"/><ellipse cx="1712.4" cy="1676.1" rx="20.0" ry="20.5" fill="#000" stroke="#d8d8d8" stroke-width="3.0"/></g><ellipse cx="1712.4" cy="1676.1" rx="18.8" ry="19.3" fill="#000"/>
<ellipse cx="1688.2" cy="1598.0" rx="39.4" ry="22.1" fill="none" stroke="#c4652a" stroke-width="2.8"/>
<ellipse cx="1637.3" cy="1686.1" rx="37.0" ry="36.3" fill="none" stroke="#e00a0a" stroke-width="3.4"/>
<ellipse cx="1777.3" cy="1686.1" rx="38.0" ry="36.3" fill="none" stroke="#d8cc08" stroke-width="3.4"/>
</g>
<line x1="1464.0" y1="1453.6" x2="1464.0" y2="1786.7" stroke="#8486b8" stroke-width="3.4" />
<line x1="1458.0" y1="1453.6" x2="1470.0" y2="1453.6" stroke="#8486b8" stroke-width="2.8" />
<line x1="1458.0" y1="1786.7" x2="1470.0" y2="1786.7" stroke="#8486b8" stroke-width="2.8" />
<text x="1469.2" y="1445.6" font-size="25.4" font-weight="bold" text-anchor="start" fill="#9a9ade" stroke="#9a9ade" stroke-width="0.23">10 cm</text>
<text x="1469.2" y="1811.3" font-size="25.4" font-weight="bold" text-anchor="start" fill="#9a9ade" stroke="#9a9ade" stroke-width="0.23">0 cm</text>
<text x="1493.0" y="1496.8" font-size="27.6" font-weight="bold" text-anchor="start" fill="#f4f4f4" stroke="#f4f4f4" stroke-width="0.25">4T1</text>
<text x="1493.0" y="1530.4" font-size="27.6" font-weight="bold" text-anchor="start" fill="#f4f4f4" stroke="#f4f4f4" stroke-width="0.25">28 days</text>
<rect x="1857.0" y="1400.0" width="23.0" height="424.5" fill="url(#cbar)" />
</g>
<g id="panel_d">
<text x="1.6" y="1902.7" font-size="56.5" font-weight="normal" text-anchor="start" fill="#0a0a0a" stroke="#0a0a0a" stroke-width="2.9" stroke-linejoin="round">D</text>
<text x="381.5" y="1919.0" font-size="39.5" font-weight="bold" text-anchor="middle" fill="#0a0a0a" textLength="91.0" lengthAdjust="spacingAndGlyphs" stroke="none">Liver</text>
<line x1="233.7" y1="2258.3" x2="233.7" y2="2264.0" stroke="#5a5a5a" stroke-width="2.4" />
<line x1="226.2" y1="2258.3" x2="241.2" y2="2258.3" stroke="#555" stroke-width="1.8" />
<rect x="218.9" y="2265.4" width="29.4" height="55.0" fill="#d6d6d6" stroke="#161616" stroke-width="2.9" />
<line x1="282.4" y1="2204.5" x2="282.4" y2="2214.3" stroke="#5a5a5a" stroke-width="2.4" />
<line x1="274.9" y1="2204.5" x2="289.9" y2="2204.5" stroke="#555" stroke-width="1.8" />
<rect x="268.4" y="2215.8" width="28.0" height="104.7" fill="#c9964b" stroke="#161616" stroke-width="2.9" />
<line x1="347.0" y1="2260.6" x2="347.0" y2="2265.0" stroke="#5a5a5a" stroke-width="2.4" />
<line x1="339.5" y1="2260.6" x2="354.5" y2="2260.6" stroke="#555" stroke-width="1.8" />
<rect x="332.8" y="2266.4" width="28.5" height="54.0" fill="#d6d6d6" stroke="#161616" stroke-width="2.9" />
<line x1="395.8" y1="2169.0" x2="395.8" y2="2175.4" stroke="#5a5a5a" stroke-width="2.4" />
<line x1="388.3" y1="2169.0" x2="403.3" y2="2169.0" stroke="#555" stroke-width="1.8" />
<rect x="381.4" y="2176.8" width="28.7" height="143.6" fill="#c9964b" stroke="#161616" stroke-width="2.9" />
<line x1="461.5" y1="2260.6" x2="461.5" y2="2265.0" stroke="#5a5a5a" stroke-width="2.4" />
<line x1="454.0" y1="2260.6" x2="469.0" y2="2260.6" stroke="#555" stroke-width="1.8" />
<rect x="446.2" y="2266.4" width="30.5" height="54.0" fill="#d6d6d6" stroke="#161616" stroke-width="2.9" />
<line x1="510.7" y1="2102.0" x2="510.7" y2="2109.0" stroke="#5a5a5a" stroke-width="2.4" />
<line x1="503.2" y1="2102.0" x2="518.2" y2="2102.0" stroke="#555" stroke-width="1.8" />
<rect x="496.1" y="2110.4" width="29.3" height="210.1" fill="#c9964b" stroke="#161616" stroke-width="2.9" />
<line x1="200.2" y1="1974.8" x2="200.2" y2="2322.2" stroke="#050505" stroke-width="3.3" />
<line x1="187.8" y1="2320.5" x2="545.0" y2="2320.5" stroke="#050505" stroke-width="3.3" />
<line x1="186.7" y1="2320.5" x2="200.2" y2="2320.5" stroke="#050505" stroke-width="3.3" />
<text x="180.7" y="2329.5" font-size="25.3" font-weight="bold" text-anchor="end" fill="#050505" stroke="#050505" stroke-width="0.23">0</text>
<line x1="186.7" y1="2205.8" x2="200.2" y2="2205.8" stroke="#050505" stroke-width="3.3" />
<text x="180.7" y="2214.8" font-size="25.3" font-weight="bold" text-anchor="end" fill="#050505" stroke="#050505" stroke-width="0.23">1</text>
<line x1="186.7" y1="2091.1" x2="200.2" y2="2091.1" stroke="#050505" stroke-width="3.3" />
<text x="180.7" y="2100.1" font-size="25.3" font-weight="bold" text-anchor="end" fill="#050505" stroke="#050505" stroke-width="0.23">2</text>
<line x1="186.7" y1="1976.4" x2="200.2" y2="1976.4" stroke="#050505" stroke-width="3.3" />
<text x="180.7" y="1985.4" font-size="25.3" font-weight="bold" text-anchor="end" fill="#050505" stroke="#050505" stroke-width="0.23">3</text>
<text x="258.9" y="2354.8" font-size="23.5" font-weight="bold" text-anchor="middle" fill="#0a0a0a" stroke="#0a0a0a" stroke-width="0.21">14th day</text>
<text x="373.2" y="2354.8" font-size="23.5" font-weight="bold" text-anchor="middle" fill="#0a0a0a" stroke="#0a0a0a" stroke-width="0.21">21st day</text>
<text x="487.8" y="2354.8" font-size="23.5" font-weight="bold" text-anchor="middle" fill="#0a0a0a" stroke="#0a0a0a" stroke-width="0.21">28th day</text>
<text x="147.5" y="2148.0" font-size="28.5" font-weight="bold" text-anchor="middle" fill="#050505" transform="rotate(-90 147.5 2148.0)" stroke="#050505" stroke-width="0.26">% ID/g</text>
<line x1="232.0" y1="2182.3" x2="280.0" y2="2182.3" stroke="#050505" stroke-width="3.0" />
<text x="0" y="13.6" font-size="26.5" font-weight="bold" font-family='"DejaVu Sans", "Liberation Sans", sans-serif' text-anchor="middle" fill="#0a0a0a" stroke="#0a0a0a" stroke-width="1.9" stroke-linejoin="round" transform="translate(256.4 2159.8) scale(1.08 0.92) rotate(90)">*</text>
<line x1="349.0" y1="2151.8" x2="396.7" y2="2151.8" stroke="#050505" stroke-width="3.0" />
<text x="0" y="13.6" font-size="26.5" font-weight="bold" font-family='"DejaVu Sans", "Liberation Sans", sans-serif' text-anchor="middle" fill="#0a0a0a" stroke="#0a0a0a" stroke-width="1.9" stroke-linejoin="round" transform="translate(364.0 2129.3) scale(1.08 0.92) rotate(90)">*</text><text x="0" y="13.6" font-size="26.5" font-weight="bold" font-family='"DejaVu Sans", "Liberation Sans", sans-serif' text-anchor="middle" fill="#0a0a0a" stroke="#0a0a0a" stroke-width="1.9" stroke-linejoin="round" transform="translate(380.0 2129.3) scale(1.08 0.92) rotate(90)">*</text>
<line x1="461.5" y1="2085.5" x2="509.6" y2="2085.5" stroke="#050505" stroke-width="3.0" />
<text x="0" y="13.6" font-size="26.5" font-weight="bold" font-family='"DejaVu Sans", "Liberation Sans", sans-serif' text-anchor="middle" fill="#0a0a0a" stroke="#0a0a0a" stroke-width="1.9" stroke-linejoin="round" transform="translate(470.0 2063.4) scale(1.08 0.92) rotate(90)">*</text><text x="0" y="13.6" font-size="26.5" font-weight="bold" font-family='"DejaVu Sans", "Liberation Sans", sans-serif' text-anchor="middle" fill="#0a0a0a" stroke="#0a0a0a" stroke-width="1.9" stroke-linejoin="round" transform="translate(486.0 2063.4) scale(1.08 0.92) rotate(90)">*</text><text x="0" y="13.6" font-size="26.5" font-weight="bold" font-family='"DejaVu Sans", "Liberation Sans", sans-serif' text-anchor="middle" fill="#0a0a0a" stroke="#0a0a0a" stroke-width="1.9" stroke-linejoin="round" transform="translate(502.0 2063.4) scale(1.08 0.92) rotate(90)">*</text>
<line x1="396.7" y1="2041.2" x2="509.6" y2="2041.2" stroke="#050505" stroke-width="3.0" />
<text x="0" y="13.6" font-size="26.5" font-weight="bold" font-family='"DejaVu Sans", "Liberation Sans", sans-serif' text-anchor="middle" fill="#0a0a0a" stroke="#0a0a0a" stroke-width="1.9" stroke-linejoin="round" transform="translate(453.4 2019.3) scale(1.08 0.92) rotate(90)">*</text>
<line x1="283.0" y1="2000.6" x2="509.6" y2="2000.6" stroke="#050505" stroke-width="3.0" />
<text x="0" y="13.6" font-size="26.5" font-weight="bold" font-family='"DejaVu Sans", "Liberation Sans", sans-serif' text-anchor="middle" fill="#0a0a0a" stroke="#0a0a0a" stroke-width="1.9" stroke-linejoin="round" transform="translate(388.0 1979.0) scale(1.08 0.92) rotate(90)">*</text><text x="0" y="13.6" font-size="26.5" font-weight="bold" font-family='"DejaVu Sans", "Liberation Sans", sans-serif' text-anchor="middle" fill="#0a0a0a" stroke="#0a0a0a" stroke-width="1.9" stroke-linejoin="round" transform="translate(404.0 1979.0) scale(1.08 0.92) rotate(90)">*</text>
<text x="892.0" y="1919.5" font-size="39.5" font-weight="bold" text-anchor="middle" fill="#0a0a0a" textLength="93.0" lengthAdjust="spacingAndGlyphs" stroke="none">Lung</text>
<line x1="747.9" y1="2249.0" x2="747.9" y2="2260.4" stroke="#5a5a5a" stroke-width="2.4" />
<line x1="740.4" y1="2249.0" x2="755.4" y2="2249.0" stroke="#555" stroke-width="1.8" />
<rect x="734.0" y="2261.8" width="27.9" height="58.5" fill="#d6d6d6" stroke="#161616" stroke-width="2.9" />
<line x1="796.6" y1="2223.0" x2="796.6" y2="2230.0" stroke="#5a5a5a" stroke-width="2.4" />
<line x1="789.1" y1="2223.0" x2="804.1" y2="2223.0" stroke="#555" stroke-width="1.8" />
<rect x="782.4" y="2231.4" width="28.5" height="88.9" fill="#c9964b" stroke="#161616" stroke-width="2.9" />
<line x1="861.2" y1="2233.0" x2="861.2" y2="2247.7" stroke="#5a5a5a" stroke-width="2.4" />
<line x1="853.7" y1="2233.0" x2="868.7" y2="2233.0" stroke="#555" stroke-width="1.8" />
<rect x="846.9" y="2249.1" width="28.7" height="71.2" fill="#d6d6d6" stroke="#161616" stroke-width="2.9" />
<line x1="909.6" y1="2195.0" x2="909.6" y2="2206.5" stroke="#5a5a5a" stroke-width="2.4" />
<line x1="902.1" y1="2195.0" x2="917.1" y2="2195.0" stroke="#555" stroke-width="1.8" />
<rect x="895.2" y="2207.9" width="28.8" height="112.4" fill="#c9964b" stroke="#161616" stroke-width="2.9" />
<line x1="974.1" y1="2222.3" x2="974.1" y2="2227.5" stroke="#5a5a5a" stroke-width="2.4" />
<line x1="966.6" y1="2222.3" x2="981.6" y2="2222.3" stroke="#555" stroke-width="1.8" />
<rect x="959.5" y="2228.9" width="29.4" height="91.4" fill="#d6d6d6" stroke="#161616" stroke-width="2.9" />
<line x1="1022.2" y1="2065.4" x2="1022.2" y2="2094.2" stroke="#5a5a5a" stroke-width="2.4" />
<line x1="1014.8" y1="2065.4" x2="1029.8" y2="2065.4" stroke="#555" stroke-width="1.8" />
<rect x="1008.2" y="2095.6" width="28.2" height="224.7" fill="#c9964b" stroke="#161616" stroke-width="2.9" />
<line x1="715.2" y1="1978.8" x2="715.2" y2="2322.0" stroke="#050505" stroke-width="3.3" />
<line x1="700.8" y1="2320.3" x2="1056.5" y2="2320.3" stroke="#050505" stroke-width="3.3" />
<line x1="701.7" y1="2320.3" x2="715.2" y2="2320.3" stroke="#050505" stroke-width="3.3" />
<text x="695.7" y="2329.3" font-size="25.3" font-weight="bold" text-anchor="end" fill="#050505" stroke="#050505" stroke-width="0.23">0.0</text>
<line x1="701.7" y1="2150.4" x2="715.2" y2="2150.4" stroke="#050505" stroke-width="3.3" />
<text x="695.7" y="2159.4" font-size="25.3" font-weight="bold" text-anchor="end" fill="#050505" stroke="#050505" stroke-width="0.23">0.5</text>
<line x1="701.7" y1="1980.4" x2="715.2" y2="1980.4" stroke="#050505" stroke-width="3.3" />
<text x="695.7" y="1989.4" font-size="25.3" font-weight="bold" text-anchor="end" fill="#050505" stroke="#050505" stroke-width="0.23">1.0</text>
<text x="774.0" y="2354.8" font-size="23.5" font-weight="bold" text-anchor="middle" fill="#0a0a0a" stroke="#0a0a0a" stroke-width="0.21">14th day</text>
<text x="886.0" y="2354.8" font-size="23.5" font-weight="bold" text-anchor="middle" fill="#0a0a0a" stroke="#0a0a0a" stroke-width="0.21">21st day</text>
<text x="1000.0" y="2354.8" font-size="23.5" font-weight="bold" text-anchor="middle" fill="#0a0a0a" stroke="#0a0a0a" stroke-width="0.21">28th day</text>
<text x="642.5" y="2150.0" font-size="28.5" font-weight="bold" text-anchor="middle" fill="#050505" transform="rotate(-90 642.5 2150.0)" stroke="#050505" stroke-width="0.26">% ID/g</text>
<line x1="862.0" y1="2170.5" x2="910.2" y2="2170.5" stroke="#050505" stroke-width="3.0" />
<text x="0" y="13.6" font-size="26.5" font-weight="bold" font-family='"DejaVu Sans", "Liberation Sans", sans-serif' text-anchor="middle" fill="#0a0a0a" stroke="#0a0a0a" stroke-width="1.9" stroke-linejoin="round" transform="translate(886.0 2149.0) scale(1.08 0.92) rotate(90)">*</text>
<line x1="974.4" y1="2052.4" x2="1022.8" y2="2052.4" stroke="#050505" stroke-width="3.0" />
<text x="0" y="13.6" font-size="26.5" font-weight="bold" font-family='"DejaVu Sans", "Liberation Sans", sans-serif' text-anchor="middle" fill="#0a0a0a" stroke="#0a0a0a" stroke-width="1.9" stroke-linejoin="round" transform="translate(990.3 2030.2) scale(1.08 0.92) rotate(90)">*</text><text x="0" y="13.6" font-size="26.5" font-weight="bold" font-family='"DejaVu Sans", "Liberation Sans", sans-serif' text-anchor="middle" fill="#0a0a0a" stroke="#0a0a0a" stroke-width="1.9" stroke-linejoin="round" transform="translate(1006.3 2030.2) scale(1.08 0.92) rotate(90)">*</text>
<path d="M725.9 2141.7 V2130.7 H932 V2141.7 M826.7 2130.7 V2012.7 H1022" fill="none" stroke="#050505" stroke-width="3"/>
<text x="0" y="13.6" font-size="26.5" font-weight="bold" font-family='"DejaVu Sans", "Liberation Sans", sans-serif' text-anchor="middle" fill="#0a0a0a" stroke="#0a0a0a" stroke-width="1.9" stroke-linejoin="round" transform="translate(916.6 1991.0) scale(1.08 0.92) rotate(90)">*</text><text x="0" y="13.6" font-size="26.5" font-weight="bold" font-family='"DejaVu Sans", "Liberation Sans", sans-serif' text-anchor="middle" fill="#0a0a0a" stroke="#0a0a0a" stroke-width="1.9" stroke-linejoin="round" transform="translate(932.6 1991.0) scale(1.08 0.92) rotate(90)">*</text>
<text x="1438.4" y="1921.5" font-size="39.5" font-weight="bold" text-anchor="middle" fill="#0a0a0a" textLength="96.5" lengthAdjust="spacingAndGlyphs" stroke="none">Brain</text>
<line x1="1284.8" y1="2033.7" x2="1284.8" y2="2055.9" stroke="#5a5a5a" stroke-width="2.4" />
<line x1="1277.2" y1="2033.7" x2="1292.2" y2="2033.7" stroke="#555" stroke-width="1.8" />
<rect x="1270.0" y="2057.3" width="29.6" height="263.0" fill="#d6d6d6" stroke="#161616" stroke-width="2.9" />
<line x1="1333.8" y1="2037.0" x2="1333.8" y2="2046.0" stroke="#5a5a5a" stroke-width="2.4" />
<line x1="1326.3" y1="2037.0" x2="1341.3" y2="2037.0" stroke="#555" stroke-width="1.8" />
<rect x="1319.5" y="2047.5" width="28.8" height="272.9" fill="#c9964b" stroke="#161616" stroke-width="2.9" />
<line x1="1399.4" y1="2028.5" x2="1399.4" y2="2082.6" stroke="#5a5a5a" stroke-width="2.4" />
<line x1="1391.9" y1="2028.5" x2="1406.9" y2="2028.5" stroke="#555" stroke-width="1.8" />
<rect x="1384.2" y="2084.0" width="30.3" height="236.3" fill="#d6d6d6" stroke="#161616" stroke-width="2.9" />
<line x1="1448.4" y1="2039.7" x2="1448.4" y2="2087.0" stroke="#5a5a5a" stroke-width="2.4" />
<line x1="1440.9" y1="2039.7" x2="1455.9" y2="2039.7" stroke="#555" stroke-width="1.8" />
<rect x="1433.2" y="2088.4" width="30.3" height="231.9" fill="#c9964b" stroke="#161616" stroke-width="2.9" />
<line x1="1514.0" y1="2009.8" x2="1514.0" y2="2055.9" stroke="#5a5a5a" stroke-width="2.4" />
<line x1="1506.5" y1="2009.8" x2="1521.5" y2="2009.8" stroke="#555" stroke-width="1.8" />
<rect x="1499.0" y="2057.3" width="30.2" height="263.0" fill="#d6d6d6" stroke="#161616" stroke-width="2.9" />
<line x1="1562.7" y1="2023.6" x2="1562.7" y2="2059.6" stroke="#5a5a5a" stroke-width="2.4" />
<line x1="1555.2" y1="2023.6" x2="1570.2" y2="2023.6" stroke="#555" stroke-width="1.8" />
<rect x="1547.9" y="2061.0" width="29.7" height="259.3" fill="#c9964b" stroke="#161616" stroke-width="2.9" />
<line x1="1251.8" y1="1974.2" x2="1251.8" y2="2321.6" stroke="#050505" stroke-width="2.6" />
<line x1="1237.7" y1="2320.3" x2="1598.0" y2="2320.3" stroke="#050505" stroke-width="2.6" />
<line x1="1238.3" y1="2320.3" x2="1251.8" y2="2320.3" stroke="#050505" stroke-width="2.6" />
<text x="1232.3" y="2329.3" font-size="25.3" font-weight="bold" text-anchor="end" fill="#050505" stroke="#050505" stroke-width="0.23">0.000</text>
<line x1="1238.3" y1="2251.3" x2="1251.8" y2="2251.3" stroke="#050505" stroke-width="2.6" />
<text x="1232.3" y="2260.3" font-size="25.3" font-weight="bold" text-anchor="end" fill="#050505" stroke="#050505" stroke-width="0.23">0.005</text>
<line x1="1238.3" y1="2182.4" x2="1251.8" y2="2182.4" stroke="#050505" stroke-width="2.6" />
<text x="1232.3" y="2191.4" font-size="25.3" font-weight="bold" text-anchor="end" fill="#050505" stroke="#050505" stroke-width="0.23">0.010</text>
<line x1="1238.3" y1="2113.4" x2="1251.8" y2="2113.4" stroke="#050505" stroke-width="2.6" />
<text x="1232.3" y="2122.4" font-size="25.3" font-weight="bold" text-anchor="end" fill="#050505" stroke="#050505" stroke-width="0.23">0.015</text>
<line x1="1238.3" y1="2044.5" x2="1251.8" y2="2044.5" stroke="#050505" stroke-width="2.6" />
<text x="1232.3" y="2053.5" font-size="25.3" font-weight="bold" text-anchor="end" fill="#050505" stroke="#050505" stroke-width="0.23">0.020</text>
<line x1="1238.3" y1="1975.5" x2="1251.8" y2="1975.5" stroke="#050505" stroke-width="2.6" />
<text x="1232.3" y="1984.5" font-size="25.3" font-weight="bold" text-anchor="end" fill="#050505" stroke="#050505" stroke-width="0.23">0.025</text>
<text x="1310.3" y="2354.8" font-size="23.5" font-weight="bold" text-anchor="middle" fill="#0a0a0a" stroke="#0a0a0a" stroke-width="0.21">14th day</text>
<text x="1424.6" y="2354.8" font-size="23.5" font-weight="bold" text-anchor="middle" fill="#0a0a0a" stroke="#0a0a0a" stroke-width="0.21">21st day</text>
<text x="1539.8" y="2354.8" font-size="23.5" font-weight="bold" text-anchor="middle" fill="#0a0a0a" stroke="#0a0a0a" stroke-width="0.21">28th day</text>
<text x="1146.8" y="2147.5" font-size="28.5" font-weight="bold" text-anchor="middle" fill="#050505" transform="rotate(-90 1146.8 2147.5)" stroke="#050505" stroke-width="0.26">% ID/g</text>
<rect x="1667.1" y="1876.3" width="61.6" height="29.2" fill="#d6d6d6" stroke="#1c1c1c" stroke-width="2.7" />
<text x="1739.9" y="1899.1" font-size="38.6" font-weight="bold" text-anchor="start" fill="#0a0a0a" textLength="138.2" lengthAdjust="spacingAndGlyphs" stroke="none">Control</text>
<rect x="1667.1" y="1962.8" width="61.6" height="28.4" fill="#c9964b" stroke="#1c1c1c" stroke-width="2.7" />
<text x="1739.0" y="1989.8" font-size="38.6" font-weight="bold" text-anchor="start" fill="#0a0a0a" textLength="62.5" lengthAdjust="spacingAndGlyphs" stroke="none">4T1</text>
</g>
</g>
</svg>
</body>
</html>
